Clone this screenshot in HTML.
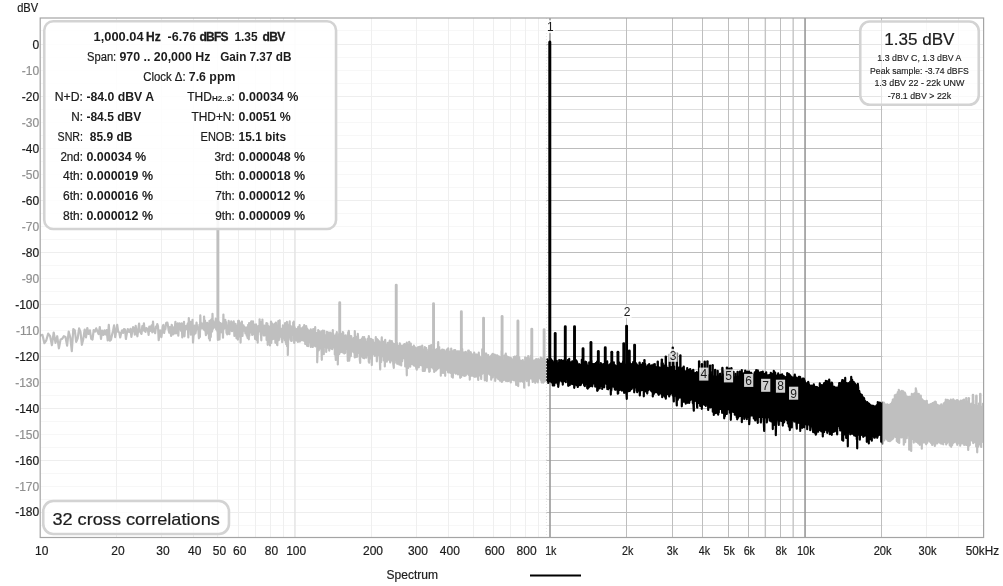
<!DOCTYPE html>
<html><head><meta charset="utf-8"><title>Spectrum</title>
<style>html,body{margin:0;padding:0;background:#fff;}body{width:1003px;height:586px;overflow:hidden;font-family:"Liberation Sans",sans-serif;}svg{display:block;will-change:transform;}text{font-family:"Liberation Sans",sans-serif;}</style></head><body>
<svg width="1003" height="586" viewBox="0 0 1003 586">
<rect x="0" y="0" width="1003" height="586" fill="#ffffff"/>
<g shape-rendering="crispEdges"><line x1="40.0" x2="983.2" y1="30.5" y2="30.5" stroke="#dfdfdf" stroke-width="1"/><line x1="40.0" x2="983.2" y1="44.5" y2="44.5" stroke="#bcbcbc" stroke-width="1"/><line x1="40.0" x2="983.2" y1="57.5" y2="57.5" stroke="#dfdfdf" stroke-width="1"/><line x1="40.0" x2="983.2" y1="70.5" y2="70.5" stroke="#dfdfdf" stroke-width="1"/><line x1="40.0" x2="983.2" y1="83.5" y2="83.5" stroke="#dfdfdf" stroke-width="1"/><line x1="40.0" x2="983.2" y1="96.5" y2="96.5" stroke="#bcbcbc" stroke-width="1"/><line x1="40.0" x2="983.2" y1="109.5" y2="109.5" stroke="#dfdfdf" stroke-width="1"/><line x1="40.0" x2="983.2" y1="122.5" y2="122.5" stroke="#dfdfdf" stroke-width="1"/><line x1="40.0" x2="983.2" y1="135.5" y2="135.5" stroke="#dfdfdf" stroke-width="1"/><line x1="40.0" x2="983.2" y1="148.5" y2="148.5" stroke="#bcbcbc" stroke-width="1"/><line x1="40.0" x2="983.2" y1="161.5" y2="161.5" stroke="#dfdfdf" stroke-width="1"/><line x1="40.0" x2="983.2" y1="174.5" y2="174.5" stroke="#dfdfdf" stroke-width="1"/><line x1="40.0" x2="983.2" y1="187.5" y2="187.5" stroke="#dfdfdf" stroke-width="1"/><line x1="40.0" x2="983.2" y1="200.5" y2="200.5" stroke="#bcbcbc" stroke-width="1"/><line x1="40.0" x2="983.2" y1="213.5" y2="213.5" stroke="#dfdfdf" stroke-width="1"/><line x1="40.0" x2="983.2" y1="226.5" y2="226.5" stroke="#dfdfdf" stroke-width="1"/><line x1="40.0" x2="983.2" y1="239.5" y2="239.5" stroke="#dfdfdf" stroke-width="1"/><line x1="40.0" x2="983.2" y1="252.5" y2="252.5" stroke="#bcbcbc" stroke-width="1"/><line x1="40.0" x2="983.2" y1="265.5" y2="265.5" stroke="#dfdfdf" stroke-width="1"/><line x1="40.0" x2="983.2" y1="278.5" y2="278.5" stroke="#dfdfdf" stroke-width="1"/><line x1="40.0" x2="983.2" y1="291.5" y2="291.5" stroke="#dfdfdf" stroke-width="1"/><line x1="40.0" x2="983.2" y1="304.5" y2="304.5" stroke="#bcbcbc" stroke-width="1"/><line x1="40.0" x2="983.2" y1="317.5" y2="317.5" stroke="#dfdfdf" stroke-width="1"/><line x1="40.0" x2="983.2" y1="330.5" y2="330.5" stroke="#dfdfdf" stroke-width="1"/><line x1="40.0" x2="983.2" y1="343.5" y2="343.5" stroke="#dfdfdf" stroke-width="1"/><line x1="40.0" x2="983.2" y1="356.5" y2="356.5" stroke="#bcbcbc" stroke-width="1"/><line x1="40.0" x2="983.2" y1="369.5" y2="369.5" stroke="#dfdfdf" stroke-width="1"/><line x1="40.0" x2="983.2" y1="382.5" y2="382.5" stroke="#dfdfdf" stroke-width="1"/><line x1="40.0" x2="983.2" y1="395.5" y2="395.5" stroke="#dfdfdf" stroke-width="1"/><line x1="40.0" x2="983.2" y1="408.5" y2="408.5" stroke="#bcbcbc" stroke-width="1"/><line x1="40.0" x2="983.2" y1="421.5" y2="421.5" stroke="#dfdfdf" stroke-width="1"/><line x1="40.0" x2="983.2" y1="434.5" y2="434.5" stroke="#dfdfdf" stroke-width="1"/><line x1="40.0" x2="983.2" y1="447.5" y2="447.5" stroke="#dfdfdf" stroke-width="1"/><line x1="40.0" x2="983.2" y1="460.5" y2="460.5" stroke="#bcbcbc" stroke-width="1"/><line x1="40.0" x2="983.2" y1="473.5" y2="473.5" stroke="#dfdfdf" stroke-width="1"/><line x1="40.0" x2="983.2" y1="486.5" y2="486.5" stroke="#dfdfdf" stroke-width="1"/><line x1="40.0" x2="983.2" y1="499.5" y2="499.5" stroke="#dfdfdf" stroke-width="1"/><line x1="40.0" x2="983.2" y1="512.5" y2="512.5" stroke="#bcbcbc" stroke-width="1"/><line x1="40.0" x2="983.2" y1="525.5" y2="525.5" stroke="#dfdfdf" stroke-width="1"/><line x1="116.5" x2="116.5" y1="18.0" y2="537.6" stroke="#bebebe" stroke-width="1"/><line x1="161.5" x2="161.5" y1="18.0" y2="537.6" stroke="#bebebe" stroke-width="1"/><line x1="193.5" x2="193.5" y1="18.0" y2="537.6" stroke="#bebebe" stroke-width="1"/><line x1="217.5" x2="217.5" y1="18.0" y2="537.6" stroke="#bebebe" stroke-width="1"/><line x1="238.5" x2="238.5" y1="18.0" y2="537.6" stroke="#bebebe" stroke-width="1"/><line x1="255.5" x2="255.5" y1="18.0" y2="537.6" stroke="#bebebe" stroke-width="1"/><line x1="270.5" x2="270.5" y1="18.0" y2="537.6" stroke="#bebebe" stroke-width="1"/><line x1="283.5" x2="283.5" y1="18.0" y2="537.6" stroke="#bebebe" stroke-width="1"/><line x1="371.5" x2="371.5" y1="18.0" y2="537.6" stroke="#bebebe" stroke-width="1"/><line x1="416.5" x2="416.5" y1="18.0" y2="537.6" stroke="#bebebe" stroke-width="1"/><line x1="448.5" x2="448.5" y1="18.0" y2="537.6" stroke="#bebebe" stroke-width="1"/><line x1="473.5" x2="473.5" y1="18.0" y2="537.6" stroke="#bebebe" stroke-width="1"/><line x1="493.5" x2="493.5" y1="18.0" y2="537.6" stroke="#bebebe" stroke-width="1"/><line x1="510.5" x2="510.5" y1="18.0" y2="537.6" stroke="#bebebe" stroke-width="1"/><line x1="525.5" x2="525.5" y1="18.0" y2="537.6" stroke="#bebebe" stroke-width="1"/><line x1="538.5" x2="538.5" y1="18.0" y2="537.6" stroke="#bebebe" stroke-width="1"/><line x1="626.5" x2="626.5" y1="18.0" y2="537.6" stroke="#bebebe" stroke-width="1"/><line x1="672.5" x2="672.5" y1="18.0" y2="537.6" stroke="#bebebe" stroke-width="1"/><line x1="702.5" x2="702.5" y1="18.0" y2="537.6" stroke="#bebebe" stroke-width="1"/><line x1="728.5" x2="728.5" y1="18.0" y2="537.6" stroke="#bebebe" stroke-width="1"/><line x1="748.5" x2="748.5" y1="18.0" y2="537.6" stroke="#bebebe" stroke-width="1"/><line x1="780.5" x2="780.5" y1="18.0" y2="537.6" stroke="#bebebe" stroke-width="1"/><line x1="881.5" x2="881.5" y1="18.0" y2="537.6" stroke="#bebebe" stroke-width="1"/><line x1="926.5" x2="926.5" y1="18.0" y2="537.6" stroke="#bebebe" stroke-width="1"/><line x1="958.5" x2="958.5" y1="18.0" y2="537.6" stroke="#bebebe" stroke-width="1"/></g><g><line x1="294.95" x2="294.95" y1="18.0" y2="537.6" stroke="#989898" stroke-width="1.6"/><line x1="550.00" x2="550.00" y1="18.0" y2="537.6" stroke="#989898" stroke-width="1.6"/><line x1="765.34" x2="765.34" y1="18.0" y2="537.6" stroke="#c4c4c4" stroke-width="1.4"/><line x1="793.18" x2="793.18" y1="18.0" y2="537.6" stroke="#c4c4c4" stroke-width="1.4"/><line x1="805.05" x2="805.05" y1="18.0" y2="537.6" stroke="#989898" stroke-width="1.6"/></g>
<clipPath id="pc"><rect x="40.0" y="18.0" width="943.8000000000001" height="519.6"/></clipPath><path clip-path="url(#pc)" d="M40.4,335.6 42.4,334.8 44.4,343.2 46.3,340.3 48.2,333.6 50.1,336.1 51.9,345.2 53.7,332.5 55.5,342.8 57.2,336.2 58.9,348.4 60.6,339.4 62.3,338.7 63.9,336.2 65.5,337.0 67.1,345.6 68.7,331.6 70.3,337.5 71.8,351.2 73.3,329.0 74.8,330.3 76.2,341.9 77.7,338.4 79.1,328.3 80.5,332.0 81.9,344.8 83.3,338.9 84.7,329.5 86.0,337.4 87.3,328.0 88.6,333.9 89.9,330.4 91.2,338.7 92.5,339.5 93.7,330.0 95.0,331.6 96.2,328.4 97.4,331.4 98.6,334.0 99.8,327.0 101.0,338.8 102.1,330.6 103.3,335.0 104.4,330.4 105.5,334.5 106.6,330.0 107.7,340.4 108.8,324.9 109.9,340.7 111.0,339.6 112.0,335.1 113.1,330.5 114.1,325.3 115.2,337.1 116.2,331.1 117.2,324.9 118.2,331.8 119.2,332.4 120.2,337.5 121.2,333.1 122.1,330.3 123.1,332.9 124.0,329.1 125.0,329.5 125.9,339.0 126.8,333.5 127.8,329.1 128.7,331.7 129.6,332.0 130.5,328.9 131.4,336.8 132.2,331.9 133.1,327.1 134.0,328.2 134.8,334.6 135.7,325.9 136.5,332.3 137.4,336.3 138.2,329.9 139.1,323.5 139.9,331.6 140.7,332.6 141.5,333.9 142.3,326.2 143.1,330.4 143.9,323.3 144.7,330.9 145.5,331.9 146.3,328.1 147.0,329.1 147.8,328.8 148.6,334.8 149.3,326.6 150.1,331.0 150.8,327.2 151.6,325.5 152.3,332.3 153.0,321.7 153.7,330.6 154.5,331.7 155.2,333.2 155.9,326.5 156.6,328.0 157.3,324.0 158.0,326.3 158.7,340.1 159.4,334.9 160.1,330.3 160.8,334.7 161.4,337.1 162.1,331.3 162.8,326.2 163.4,324.9 164.1,333.0 164.8,329.3 165.4,329.0 166.1,323.1 166.7,322.6 167.4,322.6 168.0,325.7 168.6,330.0 169.3,332.6 169.9,327.0 170.5,330.7 171.1,336.0 171.7,324.8 172.4,327.6 173.0,334.4 173.6,327.5 174.2,333.5 174.8,328.5 175.4,321.8 176.0,333.4 176.6,327.0 177.1,331.4 177.7,323.4 178.3,335.7 178.9,325.6 179.5,323.3 180.0,326.1 180.6,329.2 181.2,331.0 181.7,323.3 182.3,337.4 182.9,326.1 183.4,328.5 184.0,321.9 184.5,336.3 185.1,327.1 185.6,326.9 186.2,325.8 186.7,329.1 187.2,326.8 187.8,323.4 188.3,337.5 188.8,318.2 189.3,324.7 189.9,329.2 190.4,321.8 190.9,334.7 191.4,328.5 191.9,326.6 192.5,319.9 193.0,342.6 193.5,335.3 194.0,334.7 194.5,325.6 195.0,327.9 195.5,333.3 196.0,330.0 196.5,322.5 197.0,326.4 197.4,327.2 197.9,327.4 198.4,330.5 198.9,338.3 199.4,324.9 199.9,336.9 200.3,315.3 200.8,329.0 201.3,324.4 201.7,323.3 202.2,326.5 202.7,326.7 203.1,328.5 203.6,329.2 204.1,316.6 204.5,330.3 205.0,320.7 205.4,328.5 205.9,335.2 206.3,325.9 206.8,330.2 207.2,322.9 207.7,333.5 208.1,327.9 208.6,325.1 209.0,338.5 209.5,320.8 209.9,340.4 210.3,328.1 210.8,336.9 211.2,319.5 211.6,323.2 212.1,331.6 212.5,313.8 212.9,329.0 213.3,321.0 213.7,327.8 214.2,322.7 214.6,323.3 215.0,327.1 215.4,325.7 215.8,318.5 216.2,329.4 216.7,319.6 217.1,320.3 217.5,327.2 217.9,339.9 218.3,330.0 218.7,321.5 219.1,329.3 219.5,339.5 219.9,329.5 220.3,323.2 220.7,331.7 221.1,326.9 221.5,323.9 221.9,332.5 222.3,324.2 222.6,323.6 223.0,337.7 223.4,314.5 223.8,328.9 224.2,328.6 224.6,324.3 225.0,324.6 225.3,319.8 225.7,327.0 226.1,322.2 226.5,332.9 226.8,325.3 227.2,334.4 227.6,330.6 228.0,330.9 228.3,330.4 228.7,320.8 229.1,323.6 229.4,334.1 229.8,324.4 230.2,328.3 230.5,326.4 230.9,330.4 231.2,321.4 231.6,323.1 232.0,331.1 232.3,322.9 232.7,328.5 233.0,322.5 233.4,327.3 233.7,321.3 234.1,328.7 234.4,335.9 234.8,325.3 235.1,330.8 235.5,323.8 235.8,325.6 236.2,325.3 236.5,338.1 236.9,330.6 237.2,328.3 237.5,338.7 237.9,339.5 238.2,320.8 238.5,326.2 238.9,320.9 239.2,336.4 239.6,325.2 239.9,325.0 240.2,331.8 240.6,342.6 240.9,327.3 241.2,322.5 241.5,334.3 241.9,321.6 242.2,333.6 242.5,336.0 242.8,328.7 243.2,328.9 243.5,325.3 243.8,328.0 244.1,330.6 244.4,326.8 244.8,327.5 245.1,329.3 245.4,333.3 245.7,328.4 246.0,327.8 246.3,327.9 246.7,335.6 247.0,327.3 247.3,334.7 247.6,337.8 247.9,337.6 248.2,324.8 248.5,326.6 248.8,339.3 249.1,323.1 249.4,335.7 249.7,323.5 250.1,324.0 250.4,330.8 250.7,331.4 251.0,322.6 251.3,321.3 251.6,332.9 251.9,330.9 252.2,335.0 252.5,324.2 252.7,334.3 253.0,321.4 253.3,327.6 253.6,329.3 253.9,324.3 254.2,334.3 254.5,330.3 254.8,334.2 255.1,339.0 255.4,327.8 255.7,324.7 256.0,324.3 256.2,333.1 256.5,339.8 256.8,335.2 257.1,333.4 257.4,326.6 257.7,342.7 258.0,326.4 258.2,331.5 258.5,325.9 258.8,325.9 259.1,328.4 259.4,331.3 259.6,319.3 259.9,330.8 260.2,322.5 260.5,323.4 260.7,334.7 261.0,334.9 261.3,340.3 261.6,321.8 261.8,329.0 262.1,333.0 262.4,319.5 262.7,327.0 262.9,327.8 263.2,332.6 263.5,326.7 263.7,335.5 264.0,333.3 264.3,325.6 264.5,335.4 264.8,331.5 265.1,335.1 265.3,328.9 265.6,327.7 265.9,331.9 266.1,331.4 266.4,323.0 266.6,339.9 266.9,333.3 267.2,332.4 267.4,323.7 267.7,344.8 267.9,332.5 268.2,336.0 268.5,329.6 268.7,326.4 269.0,328.2 269.2,339.5 269.5,329.0 269.7,333.7 270.0,345.5 270.2,331.8 270.5,337.5 270.8,327.9 271.0,321.5 271.3,343.0 271.5,322.6 271.8,333.6 272.2,331.8 272.2,339.4 272.7,324.4 273.0,326.4 273.2,336.0 273.5,327.2 273.7,338.8 274.0,329.2 274.2,327.5 274.5,328.5 274.7,323.9 274.9,325.9 275.2,329.8 275.4,342.8 275.7,336.0 275.9,322.6 276.2,328.6 276.4,338.5 276.6,328.0 276.9,327.3 277.1,344.6 277.3,345.2 277.6,334.6 277.8,340.2 278.1,332.9 278.3,321.0 278.8,331.0 278.8,340.1 279.2,334.9 279.5,332.5 279.7,320.3 279.9,331.4 280.2,334.0 280.4,336.7 280.6,332.0 280.8,328.6 281.1,334.0 281.3,335.5 281.8,339.8 281.8,334.8 282.2,342.1 282.4,329.9 282.7,333.3 282.9,325.3 283.1,334.2 283.3,331.8 283.6,331.7 283.8,331.8 284.2,334.3 284.2,336.9 284.7,340.1 284.9,337.7 285.1,323.2 285.4,339.4 285.6,333.5 285.8,342.4 286.2,335.2 286.2,344.2 286.7,334.4 286.9,321.9 287.1,346.2 287.3,329.0 287.8,331.6 287.8,355.0 288.2,336.6 288.4,337.1 288.6,340.0 288.8,325.1 289.2,334.7 289.2,325.3 289.7,321.4 289.9,336.0 290.1,326.3 290.3,325.8 290.8,326.2 290.8,337.5 291.2,340.8 291.4,329.4 291.8,340.8 291.8,327.0 292.2,335.8 292.4,334.3 292.6,331.3 292.8,330.9 293.2,333.7 293.2,322.6 293.6,332.6 293.8,321.7 294.2,343.0 294.2,326.7 294.7,327.7 294.9,332.5 295.2,332.4 295.2,330.4 295.7,332.0 295.9,334.5 296.2,340.4 296.2,335.5 296.7,329.0 296.9,335.3 297.2,330.9 297.2,335.1 297.7,331.1 297.9,342.0 298.2,327.0 298.2,331.3 298.6,337.1 298.8,327.4 299.2,326.7 299.2,332.4 299.6,325.2 299.8,341.6 300.2,339.9 300.2,331.0 300.8,330.7 300.8,334.3 301.2,328.9 301.4,328.4 301.8,340.2 301.8,334.2 302.2,332.6 302.2,340.0 302.7,338.2 302.9,327.3 303.2,328.0 303.2,340.2 303.8,338.9 303.8,337.2 304.2,325.2 304.4,341.2 304.8,338.8 304.8,334.7 305.2,339.3 305.2,343.9 305.7,338.6 305.8,333.4 306.2,342.1 306.2,326.2 306.8,333.2 306.8,344.5 307.2,345.9 307.2,328.6 307.7,335.0 307.8,329.9 308.2,338.7 308.2,346.2 308.8,330.6 308.8,341.7 309.2,341.5 309.2,336.6 309.8,342.2 309.8,337.8 310.2,338.8 310.3,334.4 310.8,346.9 310.8,329.3 311.2,333.9 311.2,341.2 311.8,343.9 311.8,330.7 312.2,331.2 312.2,345.7 312.8,346.9 312.8,344.0 313.2,329.2 313.2,343.6 313.8,335.6 313.8,345.1 314.2,345.0 314.2,341.5 314.8,331.6 314.8,341.7 315.2,327.2 315.2,346.2 315.8,336.1 315.8,346.4 316.2,333.2 316.2,338.5 316.8,346.7 316.8,336.9 317.2,332.9 317.2,362.3 317.8,346.7 317.8,339.3 318.2,346.5 318.2,330.2 318.8,335.8 318.8,350.3 319.2,339.3 319.2,337.9 319.8,339.8 319.8,331.3 320.2,346.1 320.2,334.4 320.8,348.7 320.8,333.8 321.2,348.2 321.2,337.8 321.8,359.8 321.8,333.8 322.2,330.8 322.2,338.1 322.8,330.6 322.8,343.3 323.2,334.9 323.2,339.1 323.8,354.2 323.8,338.4 324.2,330.8 324.2,347.8 324.8,344.6 324.8,335.1 325.2,344.0 325.2,346.2 325.8,340.3 325.8,341.9 326.2,336.3 326.2,351.9 326.8,342.9 326.8,331.9 327.2,334.8 327.2,334.1 327.8,343.5 327.8,332.6 328.2,335.9 328.2,347.7 328.8,345.4 328.8,332.6 329.2,334.2 329.2,350.6 329.8,333.8 329.8,344.7 330.2,347.2 330.2,332.5 330.8,333.6 330.8,348.2 331.2,342.2 331.2,348.6 331.8,339.1 331.8,339.8 332.2,336.7 332.2,349.1 332.8,330.2 332.8,347.4 333.2,342.9 333.2,333.9 333.8,335.7 333.8,347.3 334.2,335.9 334.2,345.3 334.8,337.8 334.8,354.4 335.2,336.6 335.2,346.9 335.8,359.9 335.8,339.3 336.2,351.4 336.2,334.1 336.8,349.9 336.8,332.2 337.2,350.3 337.2,341.2 337.8,337.1 337.8,364.5 338.2,337.9 338.2,350.9 338.8,337.7 338.8,354.4 339.2,334.1 339.2,354.1 339.8,348.7 339.8,339.3 340.2,342.8 340.2,349.5 340.8,337.4 340.8,352.1 341.2,335.2 341.2,347.2 341.8,333.8 341.8,343.5 342.2,350.6 342.2,343.6 342.8,332.1 342.8,352.5 343.2,332.5 343.2,342.7 343.8,335.4 343.8,344.8 344.2,341.6 344.2,353.5 344.8,348.5 344.8,339.3 345.2,336.5 345.2,353.0 345.8,335.3 345.8,347.6 346.2,348.3 346.2,345.3 346.8,348.3 346.8,336.8 347.2,349.6 347.2,337.3 347.8,360.8 347.8,347.7 348.2,332.3 348.2,348.8 348.8,357.3 348.8,330.8 349.2,336.4 349.2,360.7 349.8,355.2 349.8,335.9 350.2,352.9 350.2,337.9 350.8,342.4 350.8,356.2 351.2,344.0 351.2,336.2 351.8,340.3 351.8,349.3 352.2,342.6 352.2,350.2 352.8,339.8 352.8,349.1 353.2,351.9 353.2,344.0 353.8,337.9 353.8,348.6 354.2,352.9 354.2,345.1 354.8,357.5 354.8,331.1 355.2,349.1 355.2,344.0 355.8,337.5 355.8,353.9 356.2,336.9 356.2,357.0 356.8,349.7 356.8,338.3 357.2,356.7 357.2,337.9 357.8,346.6 357.8,333.9 358.2,339.1 358.2,352.9 358.8,345.5 358.8,341.4 359.2,345.9 359.2,346.5 359.8,343.4 359.8,359.6 360.2,362.8 360.2,340.1 360.8,340.0 360.8,355.5 361.2,341.7 361.2,354.8 361.8,338.7 361.8,344.2 362.2,356.6 362.2,338.8 362.8,355.5 362.8,337.2 363.2,349.8 363.2,358.0 363.8,339.1 363.8,347.6 364.2,337.0 364.2,358.3 364.8,341.0 364.8,353.2 365.2,339.1 365.2,355.6 365.8,347.2 365.8,343.1 366.2,343.8 366.2,357.7 366.8,341.7 366.8,355.2 367.2,342.9 367.2,355.1 367.8,338.7 367.8,352.0 368.2,352.0 368.2,341.4 368.8,362.0 368.8,336.2 369.2,341.2 369.2,362.7 369.8,342.4 369.8,347.1 370.2,358.4 370.2,338.9 370.8,358.2 370.8,341.6 371.2,339.2 371.2,353.8 371.8,343.0 371.8,365.1 372.2,345.9 372.2,354.5 372.8,351.1 372.8,339.8 373.2,351.3 373.2,345.5 373.8,343.5 373.8,348.4 374.2,354.8 374.2,342.9 374.8,348.8 374.8,355.8 375.2,343.0 375.2,351.3 375.8,337.2 375.8,348.5 376.2,354.0 376.2,346.1 376.8,338.8 376.8,361.3 377.2,356.0 377.2,344.8 377.8,339.8 377.8,352.2 378.2,348.1 378.2,355.2 378.8,348.7 378.8,341.0 379.2,341.5 379.2,354.1 379.8,342.8 379.8,358.9 380.2,369.4 380.2,347.7 380.8,343.6 380.8,353.5 381.2,361.9 381.2,345.7 381.8,337.4 381.8,353.1 382.2,341.0 382.2,356.3 382.8,342.6 382.8,355.7 383.2,356.6 383.2,342.0 383.8,360.4 383.8,342.7 384.2,341.7 384.2,358.2 384.8,350.1 384.8,366.4 385.2,356.7 385.2,339.8 385.8,352.6 385.8,344.6 386.2,355.7 386.2,345.0 386.8,351.2 386.8,361.6 387.2,348.5 387.2,360.6 387.8,354.0 387.8,342.8 388.2,343.0 388.2,355.3 388.8,343.5 388.8,353.4 389.2,359.8 389.2,344.8 389.8,340.5 389.8,357.6 390.2,362.4 390.2,345.8 390.8,349.2 390.8,358.1 391.2,359.4 391.2,345.2 391.8,341.0 391.8,349.7 392.2,360.7 392.2,346.9 392.8,355.8 392.8,345.3 393.2,343.6 393.2,363.4 393.8,367.8 393.8,346.7 394.2,361.9 394.2,348.7 394.8,362.8 394.8,344.0 395.2,352.8 395.2,344.1 395.8,357.5 395.8,348.7 396.2,348.3 396.2,360.0 396.8,343.0 396.8,355.8 397.2,363.8 397.2,350.2 397.8,348.1 397.8,356.8 398.2,355.2 398.2,347.5 398.8,355.6 398.8,345.5 399.2,346.9 399.2,364.6 399.8,360.6 399.8,343.4 400.2,348.1 400.2,363.3 400.8,361.2 400.8,347.4 401.2,365.5 401.2,348.2 401.8,345.7 401.8,356.8 402.2,348.4 402.2,361.3 402.8,348.4 402.8,355.0 403.2,357.8 403.2,345.5 403.8,354.1 403.8,344.6 404.2,358.3 404.2,348.7 404.8,351.7 404.8,344.2 405.2,346.2 405.2,366.5 405.8,351.8 405.8,361.5 406.2,360.9 406.2,348.6 406.8,375.3 406.8,342.6 407.2,346.1 407.2,360.7 407.8,349.7 407.8,355.0 408.2,367.9 408.2,347.5 408.8,356.3 408.8,348.8 409.2,360.2 409.2,341.8 409.8,348.1 409.8,362.4 410.2,353.6 410.2,366.6 410.8,343.5 410.8,361.2 411.2,359.7 411.2,347.7 411.8,346.9 411.8,361.0 412.2,349.6 412.2,364.2 412.8,360.3 412.8,351.4 413.2,349.5 413.2,358.8 413.8,345.6 413.8,365.5 414.2,351.4 414.2,360.4 414.8,361.3 414.8,347.2 415.2,348.3 415.2,366.1 415.8,349.3 415.8,360.2 416.2,351.9 416.2,367.8 416.8,369.6 416.8,349.8 417.2,365.8 417.2,347.9 417.8,348.2 417.8,363.4 418.2,347.1 418.2,363.5 418.8,367.3 418.8,348.1 419.2,361.9 419.2,350.8 419.8,364.9 419.8,346.8 420.2,362.3 420.2,346.5 420.8,351.8 420.8,361.5 421.2,349.2 421.2,365.3 421.8,347.0 421.8,363.1 422.2,360.5 422.2,345.5 422.8,354.9 422.8,371.0 423.2,354.7 423.2,365.7 423.8,351.0 423.8,370.8 424.2,349.8 424.2,360.6 424.8,347.0 424.8,370.9 425.2,363.9 425.2,352.4 425.8,360.2 425.8,350.0 426.2,348.1 426.2,367.3 426.8,349.8 426.8,367.3 427.2,366.1 427.2,355.2 427.8,352.6 427.8,364.8 428.2,351.8 428.2,360.2 428.8,352.0 428.8,369.0 429.2,345.8 429.2,371.8 429.8,371.2 429.8,349.3 430.2,349.1 430.2,361.9 430.8,350.0 430.8,361.1 431.2,345.1 431.2,364.9 431.8,367.3 431.8,354.3 432.2,350.0 432.2,366.5 432.8,363.8 432.8,350.0 433.2,368.6 433.2,353.5 433.8,351.5 433.8,365.1 434.2,349.1 434.2,372.0 434.8,352.0 434.8,371.0 435.2,365.5 435.2,355.3 435.8,370.7 435.8,350.9 436.2,349.6 436.2,370.1 436.8,351.2 436.8,367.9 437.2,369.2 437.2,348.8 437.8,367.8 437.8,354.9 438.2,342.1 438.2,368.2 438.8,366.1 438.8,351.6 439.2,347.2 439.2,367.7 439.8,350.1 439.8,363.2 440.2,352.8 440.2,366.8 440.8,350.9 440.8,375.7 441.2,353.3 441.2,373.7 441.8,369.8 441.8,353.8 442.2,349.6 442.2,369.7 442.8,352.1 442.8,367.3 443.2,350.9 443.2,372.9 443.8,349.8 443.8,366.4 444.2,369.6 444.2,354.9 444.8,369.9 444.8,351.8 445.2,375.8 445.2,351.4 445.8,369.4 445.8,355.5 446.2,353.0 446.2,369.6 446.8,369.1 446.8,349.6 447.2,370.1 447.2,351.7 447.8,352.1 447.8,370.0 448.2,372.4 448.2,348.4 448.8,353.3 448.8,363.2 449.2,351.6 449.2,369.2 449.8,352.3 449.8,365.3 450.2,372.8 450.2,357.5 450.8,353.2 450.8,371.2 451.2,366.7 451.2,348.6 451.8,354.2 451.8,376.8 452.2,366.4 452.2,351.2 452.8,356.7 452.8,377.6 453.2,366.9 453.2,353.7 453.8,352.0 453.8,372.7 454.2,370.6 454.2,350.0 454.8,355.0 454.8,364.1 455.2,350.2 455.2,368.4 455.8,373.6 455.8,353.6 456.2,353.5 456.2,369.5 456.8,366.0 456.8,355.4 457.2,351.3 457.2,370.4 457.8,355.4 457.8,374.3 458.2,374.3 458.2,351.3 458.8,355.6 458.8,367.8 459.2,351.3 459.2,370.1 459.8,369.5 459.8,353.7 460.2,377.8 460.2,356.2 460.8,371.5 460.8,356.6 461.2,377.0 461.2,353.6 461.8,375.0 461.8,357.7 462.2,349.1 462.2,375.2 462.8,352.6 462.8,372.3 463.2,375.0 463.2,357.7 463.8,373.2 463.8,354.4 464.2,376.0 464.2,352.4 464.8,356.3 464.8,373.4 465.2,354.7 465.2,375.7 465.8,375.3 465.8,351.9 466.2,355.4 466.2,368.7 466.8,357.9 466.8,373.4 467.2,353.6 467.2,366.5 467.8,356.9 467.8,373.8 468.2,371.3 468.2,350.5 468.8,350.6 468.8,375.0 469.2,372.0 469.2,354.4 469.8,379.6 469.8,354.0 470.2,373.7 470.2,354.9 470.8,352.2 470.8,375.6 471.2,371.0 471.2,355.4 471.8,355.6 471.8,375.7 472.2,354.4 472.2,375.7 472.8,374.3 472.8,357.7 473.2,374.5 473.2,358.4 473.8,376.3 473.8,354.9 474.2,372.1 474.2,352.7 474.8,360.4 474.8,376.8 475.2,371.7 475.2,354.3 475.8,357.1 475.8,369.8 476.2,376.5 476.2,355.2 476.8,354.5 476.8,369.0 477.2,357.1 477.2,375.6 477.8,354.9 477.8,373.9 478.2,379.9 478.2,358.2 478.8,374.4 478.8,352.7 479.2,375.6 479.2,357.8 479.8,356.5 479.8,372.2 480.2,374.2 480.2,358.4 480.8,359.6 480.8,366.7 481.2,378.9 481.2,357.5 481.8,374.2 481.8,360.7 482.2,369.8 482.2,349.4 482.8,357.8 482.8,368.5 483.2,373.2 483.2,350.8 483.8,355.6 483.8,367.8 484.2,371.0 484.2,356.5 484.8,380.3 484.8,355.7 485.2,356.3 485.2,372.0 485.8,353.6 485.8,379.1 486.2,353.5 486.2,373.8 486.8,355.8 486.8,380.9 487.2,356.8 487.2,370.8 487.8,371.1 487.8,360.9 488.2,355.1 488.2,372.3 488.8,373.2 488.8,357.5 489.2,374.2 489.2,357.8 489.8,357.0 489.8,370.4 490.2,374.8 490.2,358.8 490.8,374.2 490.8,357.6 491.2,355.7 491.2,379.7 491.8,355.2 491.8,366.3 492.2,374.8 492.2,354.3 492.8,353.8 492.8,377.4 493.2,357.6 493.2,371.4 493.8,355.9 493.8,375.5 494.2,357.6 494.2,372.4 494.8,373.6 494.8,354.7 495.2,355.6 495.2,380.9 495.8,372.3 495.8,355.7 496.2,355.4 496.2,375.7 496.8,359.7 496.8,377.5 497.2,355.3 497.2,377.3 497.8,374.9 497.8,357.4 498.2,378.9 498.2,356.2 498.8,373.9 498.8,356.8 499.2,356.7 499.2,379.2 499.8,357.5 499.8,380.6 500.2,377.4 500.2,360.3 500.8,358.8 500.8,375.1 501.2,356.8 501.2,379.7 501.8,381.9 501.8,351.1 502.2,379.2 502.2,361.4 502.8,380.6 502.8,362.4 503.2,362.3 503.2,379.8 503.8,360.3 503.8,380.0 504.2,375.6 504.2,355.5 504.8,376.2 504.8,357.8 505.2,375.6 505.2,360.0 505.8,353.7 505.8,380.8 506.2,359.2 506.2,376.9 506.8,377.5 506.8,359.6 507.2,381.2 507.2,356.7 507.8,378.5 507.8,357.4 508.2,374.9 508.2,358.9 508.8,357.2 508.8,380.9 509.2,379.7 509.2,358.7 509.8,360.0 509.8,377.8 510.2,357.7 510.2,378.4 510.8,357.9 510.8,382.4 511.2,359.3 511.2,379.8 511.8,377.9 511.8,359.7 512.2,376.5 512.2,359.5 512.8,359.7 512.8,376.0 513.2,361.6 513.2,380.1 513.8,357.2 513.8,379.9 514.2,374.1 514.2,360.0 514.8,380.4 514.8,356.6 515.2,373.7 515.2,358.6 515.8,359.1 515.8,373.6 516.2,384.9 516.2,358.0 516.8,379.2 516.8,356.0 517.2,375.5 517.2,360.0 517.8,381.0 517.8,359.2 518.2,386.1 518.2,360.1 518.8,374.8 518.8,361.9 519.2,357.3 519.2,377.7 519.8,361.6 519.8,378.6 520.2,381.4 520.2,361.7 520.8,375.0 520.8,360.6 521.2,360.9 521.2,376.0 521.8,361.3 521.8,376.8 522.2,361.6 522.2,381.3 522.8,360.2 522.8,375.4 523.2,382.0 523.2,361.6 523.8,375.2 523.8,362.1 524.2,387.7 524.2,362.1 524.8,379.9 524.8,362.0 525.2,379.4 525.2,357.3 525.8,362.9 525.8,375.9 526.2,376.5 526.2,358.0 526.8,361.5 526.8,380.9 527.2,375.0 527.2,362.0 527.8,373.8 527.8,358.6 528.2,379.8 528.2,356.2 528.8,361.1 528.8,385.5 529.2,359.3 529.2,377.8 529.8,361.1 529.8,378.0 530.2,360.8 530.2,376.8 530.8,355.9 530.8,378.4 531.2,359.7 531.2,376.6 531.8,361.1 531.8,377.9 532.2,361.7 532.2,377.3 532.8,382.0 532.8,363.0 533.2,361.6 533.2,374.9 533.8,360.6 533.8,377.4 534.2,361.5 534.2,380.7 534.8,361.5 534.8,380.2 535.2,360.1 535.2,382.8 535.8,361.4 535.8,377.7 536.2,376.3 536.2,359.0 536.8,362.8 536.8,378.1 537.2,381.3 537.2,361.6 537.8,361.3 537.8,382.3 538.2,377.6 538.2,359.1 538.8,361.6 538.8,377.3 539.2,377.9 539.2,363.5 539.8,359.9 539.8,374.7 540.2,363.5 540.2,376.2 540.8,379.7 540.8,357.6 541.2,361.8 541.2,378.6 541.8,382.5 541.8,361.9 542.2,378.7 542.2,358.7 542.8,358.7 542.8,378.6 543.2,359.8 543.2,382.6 543.8,364.1 543.8,375.6 544.2,381.6 544.2,362.4 544.8,378.5 544.8,361.0 545.2,380.3 545.2,362.5 545.8,363.0 545.8,379.7 546.2,360.1 546.2,381.1 546.8,361.6 546.8,379.6 547.2,359.4 547.2,378.5 547.8,380.5 547.8,362.5 548.2,362.4 548.2,382.9 548.8,361.3 548.8,374.1 549.2,380.6 549.2,360.5 549.8,380.2 549.8,362.5 550.2,364.0 550.2,381.5 550.8,359.1 550.8,379.7 551.2,377.4 551.2,361.1 551.8,362.2 551.8,382.4 552.2,380.5 552.2,360.6 552.8,385.5 552.8,361.3 553.2,378.2 553.2,362.3 553.8,363.5 553.8,380.5 554.2,385.4 554.2,363.7 554.8,362.8 554.8,379.5 555.2,363.6 555.2,377.4 555.8,382.7 555.8,364.0 556.2,377.6 556.2,363.1 556.8,380.9 556.8,360.8 557.2,377.8 557.2,366.0 557.8,363.5 557.8,384.3 558.2,366.2 558.2,386.8 558.8,382.2 558.8,363.8 559.2,379.1 559.2,360.0 559.8,367.8 559.8,380.3 560.2,378.4 560.2,361.6 560.8,361.6 560.8,375.2 561.2,381.0 561.2,360.2 561.8,381.5 561.8,362.6 562.2,381.5 562.2,361.9 562.8,384.6 562.8,361.4 563.2,378.5 563.2,360.5 563.8,365.8 563.8,381.1 564.2,378.8 564.2,365.1 564.8,363.1 564.8,377.9 565.2,362.6 565.2,377.7 565.8,382.2 565.8,363.1 566.2,379.3 566.2,362.6 566.8,361.6 566.8,378.7 567.2,378.2 567.2,363.7 567.8,377.1 567.8,360.1 568.2,385.8 568.2,362.8 568.8,384.7 568.8,365.5 569.2,358.9 569.2,381.6 569.8,385.1 569.8,365.1 570.2,382.2 570.2,362.1 570.8,382.1 570.8,363.8 571.2,383.3 571.2,362.7 571.8,380.3 571.8,363.7 572.2,361.4 572.2,384.2 572.8,383.4 572.8,363.2 573.2,361.5 573.2,381.3 573.8,365.9 573.8,380.6 574.2,362.3 574.2,387.8 574.8,384.1 574.8,363.1 575.2,365.2 575.2,379.7 575.8,380.3 575.8,360.0 576.2,382.0 576.2,363.7 576.8,361.3 576.8,385.2 577.2,362.7 577.2,383.7 577.8,387.0 577.8,366.5 578.2,365.2 578.2,381.7 578.8,385.3 578.8,364.7 579.2,364.1 579.2,380.1 579.8,384.9 579.8,364.6 580.2,366.4 580.2,385.1 580.8,365.6 580.8,384.9 581.2,381.7 581.2,364.6 581.8,380.0 581.8,359.9 582.2,364.9 582.2,382.7 582.8,379.9 582.8,364.3 583.2,381.2 583.2,363.6 583.8,367.3 583.8,382.6 584.2,385.4 584.2,364.0 584.8,363.0 584.8,386.1 585.2,381.7 585.2,361.5 585.8,366.7 585.8,380.2 586.2,382.8 586.2,362.2 586.8,364.6 586.8,384.0 587.2,367.4 587.2,388.1 587.8,388.5 587.8,368.6 588.2,366.5 588.2,385.4 588.8,365.8 588.8,387.2 589.2,385.1 589.2,362.4 589.8,367.2 589.8,382.7 590.2,363.1 590.2,386.1 590.8,381.8 590.8,364.7 591.2,385.7 591.2,360.7 591.8,382.6 591.8,365.3 592.2,365.3 592.2,386.3 592.8,381.6 592.8,364.0 593.2,364.0 593.2,380.9 593.8,381.8 593.8,366.5 594.2,383.4 594.2,365.4 594.8,380.5 594.8,363.8 595.2,364.9 595.2,386.6 595.8,363.1 595.8,385.6 596.2,365.5 596.2,382.8 596.8,382.6 596.8,364.5 597.2,361.5 597.2,390.8 597.8,390.0 597.8,363.7 598.2,378.8 598.2,361.6 598.8,378.8 598.8,365.1 599.2,364.9 599.2,381.9 599.8,388.3 599.8,365.3 600.2,365.5 600.2,380.2 600.8,379.2 600.8,363.1 601.2,384.0 601.2,364.9 601.8,364.2 601.8,386.2 602.2,365.2 602.2,388.9 602.8,365.0 602.8,381.3 603.2,385.0 603.2,364.9 603.8,381.1 603.8,364.0 604.2,364.8 604.2,387.3 604.8,366.1 604.8,383.5 605.2,381.3 605.2,361.2 605.8,382.1 605.8,366.1 606.2,383.6 606.2,365.7 606.8,364.2 606.8,384.2 607.2,361.4 607.2,388.9 607.8,366.8 607.8,383.9 608.2,366.9 608.2,389.3 608.8,367.4 608.8,383.0 609.2,387.2 609.2,365.4 609.8,364.3 609.8,386.4 610.2,388.0 610.2,367.5 610.8,367.6 610.8,394.6 611.2,363.0 611.2,391.0 611.8,385.3 611.8,365.8 612.2,382.8 612.2,364.7 612.8,365.8 612.8,386.4 613.2,385.7 613.2,366.3 613.8,362.3 613.8,386.8 614.2,384.4 614.2,369.2 614.8,365.2 614.8,389.2 615.2,368.5 615.2,389.8 615.8,366.3 615.8,387.4 616.2,386.1 616.2,366.1 616.8,387.0 616.8,366.8 617.2,390.1 617.2,367.4 617.8,393.7 617.8,366.1 618.2,366.4 618.2,393.5 618.8,366.3 618.8,383.7 619.2,362.7 619.2,383.7 619.8,367.3 619.8,390.0 620.2,385.0 620.2,364.2 620.8,363.8 620.8,387.0 621.2,367.5 621.2,387.6 621.8,364.6 621.8,390.6 622.2,385.6 622.2,364.4 622.8,362.5 622.8,388.3 623.2,390.2 623.2,361.7 623.8,365.2 623.8,388.6 624.2,392.8 624.2,365.5 624.8,392.4 624.8,365.6 625.2,389.1 625.2,365.5 625.8,390.4 625.8,367.2 626.2,364.4 626.2,390.6 626.8,398.8 626.8,363.1 627.2,364.9 627.2,385.2 627.8,384.7 627.8,366.5 628.2,366.4 628.2,391.2 628.8,366.0 628.8,391.2 629.2,388.5 629.2,364.1 629.8,391.0 629.8,363.1 630.2,390.2 630.2,366.5 630.8,386.9 630.8,366.6 631.2,388.9 631.2,366.6 631.8,364.2 631.8,388.8 632.2,367.2 632.2,385.9 632.8,365.2 632.8,385.4 633.2,362.1 633.2,383.4 633.8,387.5 633.8,364.9 634.2,364.4 634.2,392.3 634.8,366.5 634.8,387.1 635.2,365.5 635.2,386.1 635.8,387.3 635.8,363.1 636.2,387.0 636.2,366.4 636.8,390.8 636.8,364.3 637.2,392.2 637.2,365.5 637.8,385.8 637.8,365.8 638.2,390.4 638.2,366.4 638.8,367.7 638.8,386.7 639.2,390.9 639.2,366.2 639.8,364.6 639.8,395.5 640.2,387.3 640.2,366.6 640.8,367.2 640.8,388.5 641.2,385.1 641.2,365.6 641.8,364.6 641.8,390.2 642.2,365.3 642.2,387.4 642.8,384.3 642.8,363.2 643.2,385.0 643.2,363.6 643.8,366.8 643.8,396.3 644.2,369.7 644.2,385.9 644.8,389.3 644.8,364.3 645.2,364.2 645.2,386.6 645.8,367.0 645.8,391.5 646.2,369.4 646.2,387.6 646.8,366.7 646.8,385.1 647.2,367.8 647.2,393.5 647.8,388.4 647.8,365.3 648.2,368.5 648.2,390.1 648.8,386.8 648.8,366.3 649.2,389.2 649.2,364.1 649.8,387.3 649.8,370.6 650.2,388.5 650.2,369.2 650.8,365.9 650.8,390.6 651.2,367.4 651.2,390.3 651.8,387.0 651.8,365.3 652.2,391.9 652.2,369.2 652.8,365.9 652.8,396.4 653.2,369.7 653.2,389.9 653.8,366.1 653.8,393.8 654.2,390.1 654.2,367.0 654.8,392.3 654.8,364.0 655.2,388.3 655.2,367.1 655.8,388.4 655.8,368.0 656.2,367.2 656.2,392.2 656.8,369.2 656.8,390.7 657.2,367.4 657.2,391.1 657.8,369.4 657.8,391.5 658.2,393.9 658.2,367.0 658.8,367.6 658.8,394.8 659.2,369.1 659.2,391.3 659.8,393.4 659.8,367.6 660.2,369.5 660.2,393.0 660.8,391.5 660.8,368.6 661.2,368.1 661.2,393.3 661.8,394.3 661.8,363.1 662.2,397.2 662.2,369.4 662.8,363.7 662.8,395.7 663.2,367.7 663.2,391.2 663.8,391.3 663.8,368.0 664.2,368.9 664.2,390.9 664.8,396.7 664.8,365.7 665.2,388.4 665.2,365.6 665.8,368.3 665.8,398.7 666.2,390.3 666.2,365.8 666.8,388.7 666.8,369.2 667.2,367.8 667.2,392.7 667.8,394.0 667.8,369.7 668.2,394.5 668.2,368.0 668.8,368.7 668.8,389.4 669.2,369.2 669.2,396.4 669.8,368.2 669.8,394.8 670.2,393.8 670.2,367.2 670.8,367.9 670.8,393.4 671.2,367.2 671.2,393.4 671.8,370.7 671.8,390.8 672.2,392.6 672.2,369.2 672.8,367.6 672.8,395.6 673.2,370.3 673.2,393.2 673.8,401.5 673.8,367.2 674.2,366.6 674.2,394.4 674.8,395.6 674.8,371.9 675.2,394.9 675.2,371.0 675.8,371.4 675.8,393.7 676.2,370.8 676.2,394.8 676.8,405.4 676.8,372.0 677.2,393.0 677.2,368.3 677.8,399.8 677.8,368.1 678.2,396.1 678.2,371.0 678.8,371.6 678.8,394.5 679.2,367.3 679.2,397.6 679.8,371.8 679.8,394.5 680.2,396.9 680.2,370.1 680.8,397.6 680.8,369.4 681.2,372.3 681.2,396.4 681.8,370.3 681.8,406.3 682.2,398.0 682.2,368.1 682.8,398.0 682.8,370.4 683.2,372.7 683.2,395.0 683.8,401.7 683.8,371.2 684.2,396.0 684.2,370.6 684.8,373.6 684.8,398.2 685.2,372.6 685.2,399.1 685.8,403.6 685.8,373.3 686.2,397.6 686.2,371.1 686.8,372.3 686.8,398.4 687.2,401.8 687.2,368.1 687.8,402.8 687.8,369.7 688.2,370.0 688.2,396.1 688.8,397.9 688.8,372.6 689.2,371.7 689.2,402.8 689.8,398.8 689.8,372.0 690.2,400.1 690.2,372.6 690.8,398.2 690.8,371.5 691.2,399.4 691.2,373.2 691.8,394.6 691.8,371.1 692.2,371.4 692.2,399.3 692.8,373.3 692.8,403.1 693.2,371.9 693.2,400.8 693.8,410.7 693.8,374.5 694.2,375.9 694.2,398.3 694.8,374.6 694.8,396.6 695.2,373.1 695.2,400.8 695.8,376.5 695.8,398.3 696.2,376.7 696.2,395.5 696.8,372.2 696.8,400.3 697.2,407.7 697.2,377.7 697.8,376.0 697.8,399.4 698.2,397.6 698.2,375.7 698.8,399.6 698.8,372.4 699.2,376.6 699.2,403.2 699.8,400.2 699.8,376.6 700.2,405.9 700.2,373.2 700.8,375.1 700.8,401.7 701.2,403.6 701.2,376.3 701.8,376.8 701.8,408.8 702.2,402.4 702.2,378.0 702.8,404.6 702.8,376.0 703.2,375.7 703.2,398.2 703.8,403.7 703.8,379.0 704.2,374.1 704.2,403.1 704.8,404.9 704.8,374.2 705.2,404.2 705.2,376.6 705.8,405.9 705.8,379.8 706.2,405.0 706.2,372.2 706.8,402.3 706.8,377.6 707.2,402.0 707.2,376.9 707.8,404.3 707.8,378.7 708.2,409.9 708.2,375.4 708.8,378.6 708.8,404.6 709.2,376.7 709.2,407.3 709.8,405.0 709.8,376.5 710.2,377.0 710.2,407.3 710.8,372.2 710.8,405.9 711.2,406.9 711.2,375.2 711.8,405.5 711.8,378.4 712.2,377.2 712.2,403.5 712.8,377.5 712.8,411.7 713.2,402.2 713.2,377.1 713.8,376.5 713.8,414.9 714.2,405.0 714.2,376.7 714.8,375.6 714.8,407.4 715.2,406.3 715.2,376.4 715.8,413.2 715.8,376.9 716.2,376.6 716.2,407.4 716.8,406.5 716.8,377.9 717.2,404.7 717.2,380.4 717.8,378.8 717.8,412.6 718.2,414.6 718.2,377.0 718.8,380.6 718.8,412.5 719.2,375.2 719.2,408.8 719.8,378.4 719.8,404.9 720.2,373.9 720.2,408.9 720.8,405.3 720.8,381.0 721.2,377.3 721.2,407.4 721.8,379.1 721.8,407.8 722.2,412.8 722.2,376.5 722.8,376.3 722.8,411.3 723.2,406.9 723.2,376.9 723.8,412.3 723.8,374.5 724.2,418.3 724.2,375.5 724.8,377.8 724.8,416.5 725.2,412.5 725.2,374.7 725.8,406.1 725.8,379.1 726.2,376.8 726.2,407.4 726.8,377.8 726.8,413.9 727.2,380.1 727.2,407.8 727.8,379.9 727.8,405.0 728.2,378.7 728.2,408.1 728.8,378.5 728.8,409.4 729.2,405.9 729.2,379.6 729.8,378.6 729.8,412.7 730.2,406.8 730.2,378.7 730.8,379.7 730.8,419.8 731.2,407.9 731.2,379.4 731.8,379.7 731.8,409.1 732.2,380.7 732.2,405.7 732.8,411.2 732.8,381.5 733.2,412.0 733.2,380.7 733.8,410.5 733.8,377.3 734.2,382.6 734.2,411.8 734.8,381.0 734.8,414.7 735.2,382.2 735.2,411.2 735.8,413.2 735.8,376.6 736.2,379.4 736.2,412.0 736.8,417.4 736.8,381.7 737.2,419.3 737.2,382.5 737.8,376.9 737.8,411.5 738.2,383.8 738.2,417.6 738.8,412.8 738.8,382.0 739.2,409.3 739.2,377.5 739.8,371.7 739.8,408.2 740.2,415.9 740.2,379.8 740.8,411.3 740.8,381.3 741.2,376.1 741.2,413.5 741.8,370.1 741.8,422.1 742.2,410.1 742.2,383.4 742.8,411.7 742.8,381.3 743.2,379.4 743.2,412.4 743.8,373.4 743.8,415.3 744.2,379.1 744.2,419.0 744.8,413.4 744.8,380.4 745.2,412.7 745.2,370.6 745.8,377.7 745.8,413.3 746.2,382.2 746.2,414.7 746.8,419.2 746.8,380.6 747.2,412.2 747.2,371.5 747.8,411.0 747.8,382.9 748.2,376.1 748.2,416.7 748.8,410.5 748.8,375.4 749.2,371.7 749.2,424.2 749.8,415.1 749.8,381.6 750.2,379.6 750.2,415.4 750.8,408.8 750.8,375.1 751.2,372.9 751.2,414.5 751.8,380.0 751.8,415.4 752.2,382.4 752.2,414.2 752.8,374.7 752.8,413.0 753.2,415.8 753.2,378.0 753.8,418.4 753.8,378.0 754.2,416.6 754.2,380.5 754.8,372.3 754.8,416.7 755.2,420.5 755.2,378.8 755.8,411.6 755.8,377.3 756.2,414.4 756.2,370.0 756.8,415.0 756.8,379.5 757.2,378.4 757.2,417.2 757.8,422.8 757.8,370.3 758.2,376.8 758.2,411.3 758.8,380.5 758.8,417.2 759.2,410.9 759.2,381.9 759.8,372.6 759.8,416.3 760.2,413.5 760.2,376.8 760.8,374.0 760.8,422.5 761.2,419.2 761.2,372.0 761.8,382.2 761.8,417.2 762.2,380.9 762.2,412.9 762.8,414.4 762.8,371.6 763.2,410.2 763.2,381.1 763.8,380.0 763.8,421.9 764.2,430.9 764.2,379.3 764.8,373.8 764.8,417.1 765.2,417.4 765.2,380.6 765.8,378.3 765.8,416.9 766.2,372.3 766.2,410.1 766.8,379.0 766.8,422.5 767.2,418.6 767.2,377.7 767.8,375.3 767.8,411.2 768.2,376.8 768.2,415.8 768.8,417.1 768.8,381.8 769.2,414.4 769.2,375.2 769.8,420.6 769.8,382.0 770.2,415.6 770.2,382.7 770.8,372.9 770.8,416.0 771.2,378.1 771.2,421.5 771.8,419.0 771.8,380.4 772.2,417.1 772.2,373.8 772.8,429.1 772.8,383.1 773.2,379.2 773.2,415.2 773.8,413.6 773.8,370.8 774.2,374.7 774.2,415.1 774.8,379.6 774.8,425.0 775.2,372.7 775.2,416.7 775.8,379.9 775.8,435.1 776.2,417.7 776.2,380.5 776.8,375.5 776.8,419.3 777.2,417.4 777.2,377.5 777.8,412.5 777.8,380.6 778.2,373.4 778.2,418.3 778.8,424.9 778.8,379.0 779.2,417.9 779.2,375.8 779.8,415.9 779.8,375.3 780.2,379.9 780.2,420.7 780.8,419.5 780.8,374.8 781.2,416.6 781.2,378.2 781.8,421.1 781.8,378.8 782.2,417.3 782.2,374.3 782.8,384.0 782.8,425.6 783.2,381.1 783.2,423.2 783.8,376.1 783.8,419.2 784.2,422.1 784.2,380.6 784.8,419.6 784.8,377.5 785.2,379.6 785.2,418.8 785.8,377.0 785.8,419.5 786.2,377.1 786.2,418.8 786.8,420.0 786.8,379.8 787.2,418.3 787.2,373.0 787.8,375.6 787.8,423.5 788.2,416.0 788.2,380.1 788.8,426.6 788.8,373.9 789.2,381.9 789.2,421.2 789.8,378.0 789.8,430.1 790.2,375.4 790.2,421.9 790.8,380.2 790.8,426.8 791.2,425.4 791.2,376.5 791.8,380.0 791.8,427.5 792.2,378.8 792.2,420.6 792.8,377.6 792.8,419.7 793.2,381.6 793.2,419.6 793.8,414.5 793.8,377.9 794.2,421.6 794.2,378.3 794.8,374.5 794.8,416.0 795.2,376.3 795.2,419.5 795.8,381.4 795.8,421.4 796.2,377.6 796.2,420.3 796.8,428.7 796.8,382.2 797.2,416.3 797.2,378.4 797.8,380.8 797.8,422.6 798.2,418.6 798.2,381.2 798.8,376.8 798.8,418.9 799.2,383.5 799.2,423.0 799.8,376.9 799.8,423.2 800.2,377.2 800.2,430.9 800.8,414.4 800.8,379.7 801.2,381.2 801.2,417.3 801.8,383.8 801.8,422.0 802.2,379.0 802.2,427.8 802.8,378.5 802.8,421.0 803.2,381.0 803.2,420.7 803.8,420.3 803.8,378.5 804.2,380.0 804.2,427.3 804.8,381.2 804.8,421.8 805.2,383.6 805.2,419.3 805.8,420.8 805.8,383.1 806.2,424.4 806.2,384.9 806.8,422.2 806.8,386.1 807.2,383.0 807.2,429.2 807.8,384.1 807.8,424.6 808.2,420.7 808.2,381.8 808.8,384.3 808.8,421.0 809.2,419.5 809.2,384.8 809.8,386.1 809.8,425.8 810.2,385.5 810.2,430.2 810.8,422.4 810.8,385.9 811.2,388.5 811.2,426.4 811.8,424.0 811.8,385.6 812.2,390.9 812.2,425.4 812.8,389.0 812.8,428.8 813.2,432.2 813.2,391.9 813.8,427.7 813.8,384.3 814.2,389.7 814.2,426.5 814.8,429.8 814.8,391.0 815.2,433.3 815.2,389.7 815.8,386.9 815.8,434.7 816.2,433.5 816.2,390.4 816.8,388.6 816.8,430.2 817.2,430.3 817.2,387.2 817.8,388.2 817.8,429.3 818.2,431.7 818.2,390.0 818.8,388.7 818.8,424.3 819.2,387.9 819.2,426.3 819.8,429.8 819.8,383.4 820.2,425.1 820.2,387.0 820.8,387.9 820.8,424.9 821.2,386.7 821.2,431.3 821.8,385.0 821.8,427.2 822.2,430.2 822.2,387.1 822.8,436.4 822.8,387.6 823.2,388.2 823.2,425.8 823.8,423.2 823.8,384.6 824.2,383.1 824.2,432.1 824.8,387.2 824.8,429.0 825.2,423.4 825.2,387.0 825.8,427.0 825.8,380.9 826.2,430.1 826.2,384.0 826.8,381.3 826.8,423.7 827.2,381.4 827.2,432.8 827.8,428.0 827.8,386.2 828.2,384.2 828.2,423.1 828.8,385.4 828.8,430.7 829.2,423.0 829.2,379.6 829.8,385.4 829.8,434.2 830.2,385.7 830.2,428.4 830.8,420.3 830.8,386.8 831.2,384.6 831.2,425.5 831.8,434.8 831.8,382.5 832.2,383.6 832.2,427.5 832.8,386.4 832.8,422.8 833.2,387.0 833.2,431.8 833.8,425.0 833.8,388.9 834.2,386.9 834.2,422.7 834.8,431.3 834.8,387.4 835.2,387.6 835.2,429.8 835.8,430.0 835.8,387.9 836.2,388.4 836.2,428.6 836.8,387.7 836.8,428.7 837.2,434.3 837.2,387.9 837.8,423.3 837.8,388.3 838.2,387.7 838.2,425.9 838.8,385.9 838.8,425.8 839.2,383.1 839.2,421.4 839.8,383.2 839.8,428.3 840.2,385.4 840.2,430.5 840.8,428.9 840.8,384.7 841.2,428.1 841.2,385.0 841.8,382.0 841.8,428.0 842.2,380.2 842.2,440.1 842.8,426.6 842.8,384.8 843.2,440.7 843.2,380.4 843.8,384.5 843.8,431.0 844.2,429.5 844.2,383.2 844.8,382.9 844.8,434.5 845.2,427.3 845.2,377.9 845.8,434.8 845.8,382.8 846.2,437.9 846.2,382.9 846.8,385.8 846.8,426.5 847.2,384.5 847.2,435.4 847.8,385.5 847.8,446.3 848.2,383.1 848.2,427.2 848.8,386.0 848.8,431.9 849.2,387.1 849.2,430.8 849.8,384.7 849.8,431.8 850.2,381.6 850.2,434.3 850.8,384.2 850.8,430.9 851.2,427.5 851.2,376.9 851.8,384.3 851.8,432.0 852.2,433.8 852.2,379.9 852.8,384.3 852.8,428.6 853.2,384.5 853.2,430.9 853.8,382.0 853.8,429.3 854.2,435.4 854.2,386.8 854.8,432.8 854.8,383.4 855.2,384.4 855.2,435.6 855.8,433.3 855.8,386.8 856.2,436.2 856.2,385.5 856.8,439.3 856.8,385.0 857.2,448.3 857.2,386.6 857.8,431.1 857.8,383.9 858.2,387.8 858.2,430.8 858.8,434.7 858.8,391.3 859.2,434.8 859.2,390.9 859.8,394.5 859.8,439.6 860.2,431.4 860.2,393.9 860.8,431.5 860.8,394.8 861.2,394.9 861.2,434.9 861.8,428.6 861.8,394.8 862.2,427.1 862.2,396.4 862.8,433.6 862.8,397.4 863.2,398.9 863.2,436.8 863.8,435.9 863.8,397.8 864.2,398.9 864.2,432.1 864.8,400.8 864.8,435.7 865.2,401.1 865.2,432.7 865.8,403.8 865.8,431.7 866.2,434.1 866.2,402.8 866.8,403.2 866.8,441.8 867.2,402.2 867.2,433.6 867.8,434.2 867.8,403.5 868.2,434.7 868.2,403.0 868.8,443.5 868.8,404.1 869.2,403.9 869.2,432.9 869.8,438.9 869.8,404.6 870.2,439.2 870.2,405.0 870.8,438.1 870.8,405.7 871.2,437.9 871.2,406.2 871.8,440.7 871.8,405.5 872.2,434.5 872.2,406.3 872.8,406.0 872.8,432.3 873.2,432.1 873.2,407.3 873.8,405.9 873.8,436.0 874.2,437.6 874.2,407.2 874.8,408.2 874.8,437.7 875.2,407.8 875.2,433.3 875.8,406.5 875.8,435.3 876.2,405.9 876.2,435.4 876.8,436.6 876.8,405.2 877.2,406.1 877.2,437.8 877.8,435.7 877.8,402.0 878.2,432.4 878.2,405.8 878.8,434.9 878.8,404.2 879.2,403.5 879.2,434.4 879.8,402.6 879.8,433.5 880.2,402.9 880.2,431.9 880.8,404.5 880.8,435.5 881.2,404.1 881.2,441.7 881.8,441.5 881.8,403.6 882.2,405.0 882.2,433.6 882.8,443.6 882.8,402.6 883.2,403.8 883.2,438.3 883.8,402.7 883.8,435.0 884.2,403.2 884.2,440.5 884.8,404.5 884.8,438.7 885.2,406.3 885.2,436.4 885.8,436.2 885.8,404.7 886.2,406.3 886.2,437.1 886.8,408.9 886.8,439.5 887.2,404.4 887.2,434.9 887.8,406.0 887.8,436.3 888.2,440.9 888.2,404.9 888.8,407.8 888.8,434.0 889.2,434.1 889.2,405.6 889.8,441.2 889.8,404.7 890.2,436.4 890.2,404.7 890.8,403.9 890.8,440.4 891.2,405.1 891.2,433.4 891.8,435.9 891.8,404.5 892.2,402.1 892.2,439.3 892.8,399.7 892.8,436.3 893.2,438.5 893.2,401.1 893.8,399.5 893.8,433.1 894.2,433.0 894.2,399.9 894.8,434.9 894.8,395.3 895.2,395.9 895.2,436.8 895.8,431.7 895.8,397.7 896.2,394.6 896.2,437.2 896.8,394.9 896.8,441.1 897.2,395.5 897.2,437.2 897.8,392.2 897.8,442.1 898.2,394.1 898.2,433.4 898.8,437.4 898.8,389.8 899.2,391.5 899.2,442.9 899.8,392.4 899.8,431.9 900.2,391.6 900.2,434.8 900.8,436.0 900.8,394.2 901.2,437.5 901.2,392.3 901.8,390.8 901.8,436.2 902.2,435.6 902.2,392.0 902.8,433.6 902.8,393.2 903.2,437.7 903.2,391.3 903.8,444.7 903.8,394.9 904.2,393.0 904.2,436.1 904.8,392.5 904.8,428.8 905.2,442.2 905.2,393.4 905.8,396.1 905.8,434.7 906.2,396.5 906.2,436.8 906.8,397.3 906.8,438.2 907.2,396.8 907.2,435.0 907.8,396.8 907.8,435.4 908.2,434.8 908.2,397.1 908.8,435.5 908.8,398.5 909.2,396.9 909.2,449.7 909.8,397.4 909.8,437.5 910.2,396.9 910.2,436.0 910.8,435.4 910.8,397.4 911.2,450.9 911.2,397.9 911.8,435.1 911.8,393.9 912.2,436.5 912.2,395.6 912.8,395.3 912.8,438.9 913.2,438.2 913.2,395.0 913.8,442.6 913.8,394.1 914.2,441.0 914.2,393.7 914.8,433.6 914.8,393.1 915.2,393.2 915.2,432.5 915.8,433.0 915.8,388.3 916.2,441.9 916.2,390.2 916.8,394.6 916.8,440.3 917.2,395.5 917.2,440.1 917.8,394.7 917.8,432.5 918.2,395.6 918.2,443.3 918.8,437.7 918.8,393.9 919.2,437.5 919.2,395.9 919.8,444.8 919.8,399.6 920.2,398.8 920.2,441.0 920.8,438.2 920.8,395.5 921.2,439.0 921.2,400.7 921.8,399.0 921.8,448.7 922.2,400.7 922.2,437.7 922.8,437.4 922.8,400.1 923.2,401.7 923.2,442.5 923.8,437.3 923.8,402.8 924.2,404.1 924.2,438.1 924.8,401.0 924.8,442.5 925.2,401.8 925.2,438.0 925.8,438.1 925.8,402.1 926.2,405.1 926.2,444.3 926.8,400.8 926.8,439.6 927.2,404.0 927.2,442.7 927.8,439.9 927.8,405.3 928.2,405.7 928.2,439.8 928.8,405.2 928.8,438.6 929.2,438.5 929.2,404.7 929.8,405.7 929.8,441.4 930.2,404.8 930.2,442.0 930.8,404.1 930.8,438.7 931.2,443.1 931.2,403.9 931.8,435.4 931.8,404.2 932.2,444.9 932.2,404.8 932.8,440.4 932.8,403.0 933.2,404.0 933.2,440.4 933.8,402.6 933.8,440.8 934.2,405.7 934.2,442.2 934.8,445.9 934.8,404.2 935.2,445.0 935.2,401.6 935.8,402.0 935.8,438.8 936.2,403.9 936.2,440.5 936.8,404.6 936.8,442.1 937.2,405.8 937.2,443.5 937.8,441.8 937.8,405.1 938.2,439.3 938.2,406.6 938.8,407.3 938.8,441.6 939.2,405.7 939.2,437.4 939.8,407.3 939.8,442.7 940.2,407.4 940.2,442.7 940.8,441.7 940.8,408.5 941.2,404.3 941.2,443.7 941.8,406.6 941.8,442.9 942.2,405.7 942.2,443.5 942.8,441.7 942.8,407.3 943.2,444.3 943.2,406.9 943.8,403.3 943.8,442.1 944.2,403.5 944.2,439.9 944.8,441.9 944.8,405.5 945.2,440.6 945.2,402.0 945.8,438.0 945.8,399.5 946.2,444.4 946.2,404.0 946.8,400.9 946.8,438.7 947.2,403.5 947.2,442.8 947.8,440.0 947.8,399.8 948.2,400.9 948.2,437.1 948.8,439.5 948.8,402.3 949.2,402.5 949.2,438.7 949.8,445.5 949.8,400.9 950.2,441.9 950.2,401.2 950.8,399.6 950.8,440.6 951.2,400.9 951.2,446.8 951.8,401.5 951.8,442.0 952.2,445.0 952.2,401.0 952.8,400.2 952.8,440.5 953.2,399.3 953.2,443.0 953.8,437.2 953.8,400.0 954.2,402.6 954.2,442.2 954.8,441.2 954.8,401.2 955.2,440.8 955.2,401.7 955.8,402.2 955.8,441.7 956.2,400.5 956.2,440.1 956.8,443.3 956.8,402.0 957.2,444.8 957.2,400.1 957.8,439.1 957.8,400.4 958.2,403.3 958.2,443.3 958.8,442.5 958.8,401.4 959.2,436.7 959.2,402.5 959.8,443.4 959.8,403.2 960.2,445.7 960.2,401.3 960.8,440.8 960.8,400.6 961.2,437.3 961.2,400.9 961.8,400.8 961.8,441.7 962.2,443.4 962.2,402.4 962.8,440.6 962.8,402.1 963.2,437.8 963.2,400.2 963.8,401.2 963.8,441.4 964.2,401.8 964.2,444.9 964.8,402.9 964.8,437.6 965.2,404.4 965.2,441.7 965.8,442.8 965.8,401.6 966.2,444.9 966.2,398.1 966.8,403.9 966.8,440.1 967.2,442.8 967.2,401.3 967.8,445.3 967.8,404.2 968.2,450.0 968.2,403.3 968.8,402.2 968.8,446.1 969.2,404.2 969.2,438.4 969.8,444.9 969.8,405.2 970.2,438.5 970.2,404.7 970.8,404.6 970.8,438.1 971.2,439.8 971.2,403.7 971.8,436.8 971.8,404.4 972.2,440.8 972.2,407.0 972.8,404.5 972.8,440.7 973.2,400.5 973.2,443.1 973.8,441.3 973.8,406.0 974.2,442.3 974.2,405.7 974.8,405.1 974.8,441.9 975.2,406.2 975.2,441.4 975.8,406.3 975.8,441.6 976.2,406.4 976.2,446.6 976.8,441.1 976.8,407.2 977.2,452.3 977.2,407.0 977.8,406.0 977.8,445.9 978.2,405.8 978.2,446.7 978.8,440.5 978.8,403.6 979.2,444.6 979.2,407.2 979.8,439.8 979.8,408.8 980.2,406.3 980.2,440.8 980.8,406.8 980.8,436.5 981.2,446.9 981.2,407.5 981.8,408.0 981.8,438.0 982.2,406.7 982.2,441.8 982.8,437.9 982.8,403.9 983.2,407.4 983.2,438.8" fill="none" stroke="#000" stroke-width="2.2" stroke-linejoin="round" stroke-linecap="round"/><g clip-path="url(#pc)"><line x1="217.88" x2="217.88" y1="191.4" y2="331.0" stroke="#000" stroke-width="2.9" stroke-linecap="round"/><line x1="339.71" x2="339.71" y1="302.8" y2="347.1" stroke="#000" stroke-width="2.9" stroke-linecap="round"/><line x1="396.23" x2="396.23" y1="285.1" y2="353.6" stroke="#000" stroke-width="2.9" stroke-linecap="round"/><line x1="433.54" x2="433.54" y1="303.8" y2="361.3" stroke="#000" stroke-width="2.9" stroke-linecap="round"/><line x1="461.35" x2="461.35" y1="311.8" y2="364.2" stroke="#000" stroke-width="2.9" stroke-linecap="round"/><line x1="483.56" x2="483.56" y1="318.1" y2="366.0" stroke="#000" stroke-width="2.9" stroke-linecap="round"/><line x1="502.09" x2="502.09" y1="316.4" y2="370.0" stroke="#000" stroke-width="2.9" stroke-linecap="round"/><line x1="517.92" x2="517.92" y1="320.9" y2="370.5" stroke="#000" stroke-width="2.9" stroke-linecap="round"/><line x1="531.80" x2="531.80" y1="329.1" y2="371.3" stroke="#000" stroke-width="2.9" stroke-linecap="round"/><line x1="544.11" x2="544.11" y1="329.8" y2="372.0" stroke="#000" stroke-width="2.9" stroke-linecap="round"/><line x1="549.79" x2="549.79" y1="42.0" y2="372.5" stroke="#000" stroke-width="3.0" stroke-linecap="round"/><line x1="555.21" x2="555.21" y1="333.4" y2="372.9" stroke="#000" stroke-width="2.9" stroke-linecap="round"/><line x1="565.28" x2="565.28" y1="326.8" y2="373.2" stroke="#000" stroke-width="2.9" stroke-linecap="round"/><line x1="574.52" x2="574.52" y1="326.6" y2="373.4" stroke="#000" stroke-width="2.9" stroke-linecap="round"/><line x1="583.04" x2="583.04" y1="348.8" y2="375.7" stroke="#000" stroke-width="2.9" stroke-linecap="round"/><line x1="590.95" x2="590.95" y1="342.4" y2="375.7" stroke="#000" stroke-width="2.9" stroke-linecap="round"/><line x1="598.34" x2="598.34" y1="351.4" y2="374.8" stroke="#000" stroke-width="2.9" stroke-linecap="round"/><line x1="605.26" x2="605.26" y1="347.8" y2="376.0" stroke="#000" stroke-width="2.9" stroke-linecap="round"/><line x1="611.79" x2="611.79" y1="352.3" y2="377.7" stroke="#000" stroke-width="2.9" stroke-linecap="round"/><line x1="617.94" x2="617.94" y1="352.3" y2="377.9" stroke="#000" stroke-width="2.9" stroke-linecap="round"/><line x1="623.78" x2="623.78" y1="343.6" y2="378.0" stroke="#000" stroke-width="2.9" stroke-linecap="round"/><line x1="626.58" x2="626.58" y1="326.1" y2="378.1" stroke="#000" stroke-width="2.9" stroke-linecap="round"/><line x1="629.31" x2="629.31" y1="350.9" y2="377.9" stroke="#000" stroke-width="2.9" stroke-linecap="round"/><line x1="634.59" x2="634.59" y1="345.1" y2="377.5" stroke="#000" stroke-width="2.9" stroke-linecap="round"/><line x1="639.62" x2="639.62" y1="362.7" y2="377.6" stroke="#000" stroke-width="2.4" stroke-linecap="round"/><line x1="644.44" x2="644.44" y1="360.1" y2="378.4" stroke="#000" stroke-width="2.4" stroke-linecap="round"/><line x1="649.06" x2="649.06" y1="365.2" y2="379.4" stroke="#000" stroke-width="2.4" stroke-linecap="round"/><line x1="653.48" x2="653.48" y1="364.7" y2="380.5" stroke="#000" stroke-width="2.4" stroke-linecap="round"/><line x1="657.75" x2="657.75" y1="361.7" y2="380.9" stroke="#000" stroke-width="2.4" stroke-linecap="round"/><line x1="661.85" x2="661.85" y1="359.6" y2="381.1" stroke="#000" stroke-width="2.4" stroke-linecap="round"/><line x1="665.81" x2="665.81" y1="356.6" y2="381.4" stroke="#000" stroke-width="2.4" stroke-linecap="round"/><line x1="669.63" x2="669.63" y1="354.7" y2="382.0" stroke="#000" stroke-width="2.4" stroke-linecap="round"/><line x1="672.79" x2="672.79" y1="347.7" y2="382.3" stroke="#000" stroke-width="2.4" stroke-linecap="round"/><line x1="673.32" x2="673.32" y1="356.2" y2="382.6" stroke="#000" stroke-width="2.4" stroke-linecap="round"/><line x1="676.89" x2="676.89" y1="353.5" y2="383.4" stroke="#000" stroke-width="2.4" stroke-linecap="round"/><line x1="680.36" x2="680.36" y1="355.5" y2="384.4" stroke="#000" stroke-width="2.4" stroke-linecap="round"/><line x1="683.71" x2="683.71" y1="366.8" y2="385.6" stroke="#000" stroke-width="2.4" stroke-linecap="round"/><line x1="686.97" x2="686.97" y1="371.9" y2="386.5" stroke="#000" stroke-width="2.4" stroke-linecap="round"/><line x1="690.14" x2="690.14" y1="369.3" y2="387.3" stroke="#000" stroke-width="2.4" stroke-linecap="round"/><line x1="693.21" x2="693.21" y1="369.9" y2="388.1" stroke="#000" stroke-width="2.4" stroke-linecap="round"/><line x1="696.21" x2="696.21" y1="374.5" y2="389.1" stroke="#000" stroke-width="2.4" stroke-linecap="round"/><line x1="699.12" x2="699.12" y1="361.5" y2="390.0" stroke="#000" stroke-width="2.4" stroke-linecap="round"/><line x1="701.96" x2="701.96" y1="364.2" y2="391.0" stroke="#000" stroke-width="2.4" stroke-linecap="round"/><line x1="704.73" x2="704.73" y1="361.7" y2="391.9" stroke="#000" stroke-width="2.4" stroke-linecap="round"/><line x1="707.44" x2="707.44" y1="361.5" y2="392.5" stroke="#000" stroke-width="2.4" stroke-linecap="round"/><line x1="710.07" x2="710.07" y1="365.6" y2="393.0" stroke="#000" stroke-width="2.4" stroke-linecap="round"/><line x1="712.64" x2="712.64" y1="365.2" y2="393.4" stroke="#000" stroke-width="2.4" stroke-linecap="round"/><line x1="715.16" x2="715.16" y1="369.9" y2="394.0" stroke="#000" stroke-width="2.4" stroke-linecap="round"/><line x1="717.62" x2="717.62" y1="370.9" y2="394.3" stroke="#000" stroke-width="2.4" stroke-linecap="round"/><line x1="720.03" x2="720.03" y1="374.0" y2="394.6" stroke="#000" stroke-width="2.4" stroke-linecap="round"/><line x1="722.39" x2="722.39" y1="368.0" y2="394.9" stroke="#000" stroke-width="2.4" stroke-linecap="round"/><line x1="724.70" x2="724.70" y1="370.9" y2="395.2" stroke="#000" stroke-width="2.4" stroke-linecap="round"/><line x1="726.96" x2="726.96" y1="367.6" y2="395.5" stroke="#000" stroke-width="2.4" stroke-linecap="round"/><line x1="729.18" x2="729.18" y1="368.8" y2="396.0" stroke="#000" stroke-width="2.4" stroke-linecap="round"/><line x1="731.35" x2="731.35" y1="368.3" y2="396.7" stroke="#000" stroke-width="2.4" stroke-linecap="round"/><line x1="733.48" x2="733.48" y1="371.9" y2="397.4" stroke="#000" stroke-width="2.4" stroke-linecap="round"/><line x1="735.57" x2="735.57" y1="374.0" y2="398.1" stroke="#000" stroke-width="2.4" stroke-linecap="round"/><line x1="737.62" x2="737.62" y1="371.9" y2="398.6" stroke="#000" stroke-width="2.4" stroke-linecap="round"/><line x1="963.99" x2="963.99" y1="399.7" y2="422.2" stroke="#000" stroke-width="2.6" stroke-linecap="round"/><line x1="968.71" x2="968.71" y1="398.2" y2="423.6" stroke="#000" stroke-width="2.6" stroke-linecap="round"/><line x1="972.99" x2="972.99" y1="395.1" y2="424.5" stroke="#000" stroke-width="2.6" stroke-linecap="round"/><line x1="976.39" x2="976.39" y1="395.9" y2="425.0" stroke="#000" stroke-width="2.6" stroke-linecap="round"/><line x1="980.30" x2="980.30" y1="394.0" y2="425.2" stroke="#000" stroke-width="2.6" stroke-linecap="round"/></g>
<rect x="40.0" y="18.0" width="506.43" height="519.6" fill="#fff" fill-opacity="0.75"/><rect x="882.43" y="18.0" width="100.77" height="519.6" fill="#fff" fill-opacity="0.75"/>
<line x1="546.4" x2="546.4" y1="18.0" y2="537.6" stroke="#e6e6e6" stroke-width="1" stroke-dasharray="1 2"/>
<rect x="40.2" y="18.0" width="943.4" height="519.5" fill="none" stroke="#a4a4a4" stroke-width="1.2"/>
<rect x="545.7" y="20.2" width="9.2" height="13" fill="#fff" fill-opacity="0.82"/><text x="550.3" y="31" font-size="12" text-anchor="middle" fill="#1a1a1a">1</text><rect x="622.4" y="305.2" width="9.2" height="13" fill="#fff" fill-opacity="0.82"/><text x="627.0" y="316" font-size="12" text-anchor="middle" fill="#1a1a1a">2</text><rect x="668.4" y="348.8" width="9.2" height="13" fill="#fff" fill-opacity="0.82"/><text x="673.0" y="360" font-size="12" text-anchor="middle" fill="#1a1a1a">3</text><rect x="699.2" y="367.6" width="9.2" height="13" fill="#fff" fill-opacity="0.82"/><text x="703.8" y="378" font-size="12" text-anchor="middle" fill="#1a1a1a">4</text><rect x="723.9" y="369.4" width="9.2" height="13" fill="#fff" fill-opacity="0.82"/><text x="728.5" y="380" font-size="12" text-anchor="middle" fill="#1a1a1a">5</text><rect x="744.1" y="373.9" width="9.2" height="13" fill="#fff" fill-opacity="0.82"/><text x="748.7" y="385" font-size="12" text-anchor="middle" fill="#1a1a1a">6</text><rect x="761.1" y="378.8" width="9.2" height="13" fill="#fff" fill-opacity="0.82"/><text x="765.7" y="390" font-size="12" text-anchor="middle" fill="#1a1a1a">7</text><rect x="775.9" y="379.7" width="9.2" height="13" fill="#fff" fill-opacity="0.82"/><text x="780.5" y="390" font-size="12" text-anchor="middle" fill="#1a1a1a">8</text><rect x="789.0" y="386.7" width="9.2" height="13" fill="#fff" fill-opacity="0.82"/><text x="793.6" y="398" font-size="12" text-anchor="middle" fill="#1a1a1a">9</text>
<text x="17.2" y="12" font-size="12" fill="#1c1c1c" stroke="#1c1c1c" stroke-width="0.2" textLength="21.0" lengthAdjust="spacingAndGlyphs">dBV</text><text x="39.2" y="49" font-size="12" fill="#1c1c1c" text-anchor="end" stroke="#1c1c1c" stroke-width="0.2">0</text><text x="39.2" y="75" font-size="12" fill="#909090" text-anchor="end" stroke="#909090" stroke-width="0.2">-10</text><text x="39.2" y="101" font-size="12" fill="#1c1c1c" text-anchor="end" stroke="#1c1c1c" stroke-width="0.2">-20</text><text x="39.2" y="127" font-size="12" fill="#909090" text-anchor="end" stroke="#909090" stroke-width="0.2">-30</text><text x="39.2" y="153" font-size="12" fill="#1c1c1c" text-anchor="end" stroke="#1c1c1c" stroke-width="0.2">-40</text><text x="39.2" y="179" font-size="12" fill="#909090" text-anchor="end" stroke="#909090" stroke-width="0.2">-50</text><text x="39.2" y="205" font-size="12" fill="#1c1c1c" text-anchor="end" stroke="#1c1c1c" stroke-width="0.2">-60</text><text x="39.2" y="231" font-size="12" fill="#909090" text-anchor="end" stroke="#909090" stroke-width="0.2">-70</text><text x="39.2" y="257" font-size="12" fill="#1c1c1c" text-anchor="end" stroke="#1c1c1c" stroke-width="0.2">-80</text><text x="39.2" y="283" font-size="12" fill="#909090" text-anchor="end" stroke="#909090" stroke-width="0.2">-90</text><text x="39.2" y="309" font-size="12" fill="#1c1c1c" text-anchor="end" stroke="#1c1c1c" stroke-width="0.2">-100</text><text x="39.2" y="335" font-size="12" fill="#909090" text-anchor="end" stroke="#909090" stroke-width="0.2">-110</text><text x="39.2" y="361" font-size="12" fill="#1c1c1c" text-anchor="end" stroke="#1c1c1c" stroke-width="0.2">-120</text><text x="39.2" y="387" font-size="12" fill="#909090" text-anchor="end" stroke="#909090" stroke-width="0.2">-130</text><text x="39.2" y="413" font-size="12" fill="#1c1c1c" text-anchor="end" stroke="#1c1c1c" stroke-width="0.2">-140</text><text x="39.2" y="439" font-size="12" fill="#909090" text-anchor="end" stroke="#909090" stroke-width="0.2">-150</text><text x="39.2" y="465" font-size="12" fill="#1c1c1c" text-anchor="end" stroke="#1c1c1c" stroke-width="0.2">-160</text><text x="39.2" y="491" font-size="12" fill="#909090" text-anchor="end" stroke="#909090" stroke-width="0.2">-170</text><text x="39.2" y="516" font-size="12" fill="#1c1c1c" text-anchor="end" stroke="#1c1c1c" stroke-width="0.2">-180</text><text x="41.7" y="555" font-size="12" fill="#1c1c1c" text-anchor="middle" stroke="#1c1c1c" stroke-width="0.2">10</text><text x="118.0" y="555" font-size="12" fill="#1c1c1c" text-anchor="middle" stroke="#1c1c1c" stroke-width="0.2">20</text><text x="162.9" y="555" font-size="12" fill="#1c1c1c" text-anchor="middle" stroke="#1c1c1c" stroke-width="0.2">30</text><text x="194.8" y="555" font-size="12" fill="#1c1c1c" text-anchor="middle" stroke="#1c1c1c" stroke-width="0.2">40</text><text x="219.5" y="555" font-size="12" fill="#1c1c1c" text-anchor="middle" stroke="#1c1c1c" stroke-width="0.2">50</text><text x="239.7" y="555" font-size="12" fill="#1c1c1c" text-anchor="middle" stroke="#1c1c1c" stroke-width="0.2">60</text><text x="271.5" y="555" font-size="12" fill="#1c1c1c" text-anchor="middle" stroke="#1c1c1c" stroke-width="0.2">80</text><text x="296.2" y="555" font-size="12" fill="#1c1c1c" text-anchor="middle" stroke="#1c1c1c" stroke-width="0.2">100</text><text x="373.0" y="555" font-size="12" fill="#1c1c1c" text-anchor="middle" stroke="#1c1c1c" stroke-width="0.2">200</text><text x="417.9" y="555" font-size="12" fill="#1c1c1c" text-anchor="middle" stroke="#1c1c1c" stroke-width="0.2">300</text><text x="449.8" y="555" font-size="12" fill="#1c1c1c" text-anchor="middle" stroke="#1c1c1c" stroke-width="0.2">400</text><text x="494.7" y="555" font-size="12" fill="#1c1c1c" text-anchor="middle" stroke="#1c1c1c" stroke-width="0.2">600</text><text x="526.6" y="555" font-size="12" fill="#1c1c1c" text-anchor="middle" stroke="#1c1c1c" stroke-width="0.2">800</text><text x="550.8" y="555" font-size="12" fill="#1c1c1c" text-anchor="middle" stroke="#1c1c1c" stroke-width="0.2" textLength="11.3" lengthAdjust="spacingAndGlyphs">1k</text><text x="627.6" y="555" font-size="12" fill="#1c1c1c" text-anchor="middle" stroke="#1c1c1c" stroke-width="0.2" textLength="11.3" lengthAdjust="spacingAndGlyphs">2k</text><text x="672.5" y="555" font-size="12" fill="#1c1c1c" text-anchor="middle" stroke="#1c1c1c" stroke-width="0.2" textLength="11.3" lengthAdjust="spacingAndGlyphs">3k</text><text x="704.4" y="555" font-size="12" fill="#1c1c1c" text-anchor="middle" stroke="#1c1c1c" stroke-width="0.2" textLength="11.3" lengthAdjust="spacingAndGlyphs">4k</text><text x="729.1" y="555" font-size="12" fill="#1c1c1c" text-anchor="middle" stroke="#1c1c1c" stroke-width="0.2" textLength="11.3" lengthAdjust="spacingAndGlyphs">5k</text><text x="749.3" y="555" font-size="12" fill="#1c1c1c" text-anchor="middle" stroke="#1c1c1c" stroke-width="0.2" textLength="11.3" lengthAdjust="spacingAndGlyphs">6k</text><text x="781.1" y="555" font-size="12" fill="#1c1c1c" text-anchor="middle" stroke="#1c1c1c" stroke-width="0.2" textLength="11.3" lengthAdjust="spacingAndGlyphs">8k</text><text x="805.9" y="555" font-size="12" fill="#1c1c1c" text-anchor="middle" stroke="#1c1c1c" stroke-width="0.2" textLength="17.9" lengthAdjust="spacingAndGlyphs">10k</text><text x="882.6" y="555" font-size="12" fill="#1c1c1c" text-anchor="middle" stroke="#1c1c1c" stroke-width="0.2" textLength="17.9" lengthAdjust="spacingAndGlyphs">20k</text><text x="927.5" y="555" font-size="12" fill="#1c1c1c" text-anchor="middle" stroke="#1c1c1c" stroke-width="0.2" textLength="17.9" lengthAdjust="spacingAndGlyphs">30k</text><text x="965.8" y="555" font-size="12" fill="#1c1c1c" stroke="#1c1c1c" stroke-width="0.2" textLength="33.2" lengthAdjust="spacingAndGlyphs">50kHz</text><text x="386.6" y="579" font-size="12" fill="#1c1c1c" stroke="#1c1c1c" stroke-width="0.2" textLength="51.4" lengthAdjust="spacingAndGlyphs">Spectrum</text>
<line x1="530" x2="581" y1="575.5" y2="575.5" stroke="#000" stroke-width="2"/>
<rect x="44.25" y="21.25" width="291.8" height="207.7" rx="9" ry="9" fill="#fff" fill-opacity="0.88" stroke="#d3d3d3" stroke-width="2.6"/><text x="93.6" y="41" font-size="12" fill="#1c1c1c" font-weight="bold" textLength="50.0" lengthAdjust="spacingAndGlyphs">1,000.04</text><text x="146.0" y="41" font-size="12" fill="#1c1c1c" font-weight="bold" stroke="#1c1c1c" stroke-width="0.3">Hz</text><text x="167.6" y="41" font-size="12" fill="#1c1c1c" font-weight="bold" textLength="28.6" lengthAdjust="spacingAndGlyphs">-6.76</text><text x="199.6" y="41" font-size="12" fill="#1c1c1c" font-weight="bold" stroke="#1c1c1c" stroke-width="0.3" textLength="28.8" lengthAdjust="spacing">dBFS</text><text x="234.4" y="41" font-size="12" fill="#1c1c1c" font-weight="bold" textLength="23.2" lengthAdjust="spacingAndGlyphs">1.35</text><text x="262.4" y="41" font-size="12" fill="#1c1c1c" font-weight="bold" stroke="#1c1c1c" stroke-width="0.3" textLength="22.8" lengthAdjust="spacing">dBV</text><text x="87.0" y="61" font-size="12" fill="#1c1c1c" stroke="#1c1c1c" stroke-width="0.22" textLength="29.2" lengthAdjust="spacingAndGlyphs">Span:</text><text x="119.4" y="61" font-size="12" fill="#1c1c1c" font-weight="bold" textLength="91.0" lengthAdjust="spacingAndGlyphs">970 .. 20,000 Hz</text><text x="220.2" y="61" font-size="12" fill="#1c1c1c" font-weight="bold" textLength="71.2" lengthAdjust="spacingAndGlyphs">Gain 7.37 dB</text><text x="143.2" y="81" font-size="12" fill="#1c1c1c" stroke="#1c1c1c" stroke-width="0.22" textLength="42.4" lengthAdjust="spacingAndGlyphs">Clock Δ:</text><text x="188.8" y="81" font-size="12" fill="#1c1c1c" font-weight="bold" textLength="46.6" lengthAdjust="spacingAndGlyphs">7.6 ppm</text><text x="83.0" y="101" font-size="12" fill="#1c1c1c" text-anchor="end" stroke="#1c1c1c" stroke-width="0.22" textLength="28.2" lengthAdjust="spacingAndGlyphs">N+D:</text><text x="86.4" y="101" font-size="12" fill="#1c1c1c" font-weight="bold" textLength="67.6" lengthAdjust="spacingAndGlyphs">-84.0 dBV A</text><text x="238.6" y="101" font-size="12" fill="#1c1c1c" font-weight="bold" textLength="59.8" lengthAdjust="spacingAndGlyphs">0.00034 %</text><text x="83.0" y="121" font-size="12" fill="#1c1c1c" text-anchor="end" stroke="#1c1c1c" stroke-width="0.22" textLength="11.8" lengthAdjust="spacingAndGlyphs">N:</text><text x="86.4" y="121" font-size="12" fill="#1c1c1c" font-weight="bold" textLength="55.0" lengthAdjust="spacingAndGlyphs">-84.5 dBV</text><text x="234.8" y="121" font-size="12" fill="#1c1c1c" text-anchor="end" stroke="#1c1c1c" stroke-width="0.22" textLength="43.4" lengthAdjust="spacingAndGlyphs">THD+N:</text><text x="238.6" y="121" font-size="12" fill="#1c1c1c" font-weight="bold" textLength="52.2" lengthAdjust="spacingAndGlyphs">0.0051 %</text><text x="83.0" y="141" font-size="12" fill="#1c1c1c" text-anchor="end" stroke="#1c1c1c" stroke-width="0.22" textLength="25.4" lengthAdjust="spacingAndGlyphs">SNR:</text><text x="86.4" y="141" font-size="12" fill="#1c1c1c" font-weight="bold" textLength="46.0" lengthAdjust="spacingAndGlyphs"> 85.9 dB</text><text x="234.8" y="141" font-size="12" fill="#1c1c1c" text-anchor="end" stroke="#1c1c1c" stroke-width="0.22" textLength="34.2" lengthAdjust="spacingAndGlyphs">ENOB:</text><text x="238.6" y="141" font-size="12" fill="#1c1c1c" font-weight="bold" textLength="47.6" lengthAdjust="spacingAndGlyphs">15.1 bits</text><text x="83.0" y="161" font-size="12" fill="#1c1c1c" text-anchor="end" stroke="#1c1c1c" stroke-width="0.22" textLength="22.6" lengthAdjust="spacingAndGlyphs">2nd:</text><text x="86.4" y="161" font-size="12" fill="#1c1c1c" font-weight="bold" textLength="59.8" lengthAdjust="spacingAndGlyphs">0.00034 %</text><text x="234.8" y="161" font-size="12" fill="#1c1c1c" text-anchor="end" stroke="#1c1c1c" stroke-width="0.22" textLength="20.2" lengthAdjust="spacingAndGlyphs">3rd:</text><text x="238.6" y="161" font-size="12" fill="#1c1c1c" font-weight="bold" textLength="66.6" lengthAdjust="spacingAndGlyphs">0.000048 %</text><text x="83.0" y="180" font-size="12" fill="#1c1c1c" text-anchor="end" stroke="#1c1c1c" stroke-width="0.22" textLength="20.0" lengthAdjust="spacingAndGlyphs">4th:</text><text x="86.4" y="180" font-size="12" fill="#1c1c1c" font-weight="bold" textLength="66.6" lengthAdjust="spacingAndGlyphs">0.000019 %</text><text x="234.8" y="180" font-size="12" fill="#1c1c1c" text-anchor="end" stroke="#1c1c1c" stroke-width="0.22" textLength="19.6" lengthAdjust="spacingAndGlyphs">5th:</text><text x="238.6" y="180" font-size="12" fill="#1c1c1c" font-weight="bold" textLength="66.6" lengthAdjust="spacingAndGlyphs">0.000018 %</text><text x="83.0" y="200" font-size="12" fill="#1c1c1c" text-anchor="end" stroke="#1c1c1c" stroke-width="0.22" textLength="20.0" lengthAdjust="spacingAndGlyphs">6th:</text><text x="86.4" y="200" font-size="12" fill="#1c1c1c" font-weight="bold" textLength="66.6" lengthAdjust="spacingAndGlyphs">0.000016 %</text><text x="234.8" y="200" font-size="12" fill="#1c1c1c" text-anchor="end" stroke="#1c1c1c" stroke-width="0.22" textLength="19.6" lengthAdjust="spacingAndGlyphs">7th:</text><text x="238.6" y="200" font-size="12" fill="#1c1c1c" font-weight="bold" textLength="66.6" lengthAdjust="spacingAndGlyphs">0.000012 %</text><text x="83.0" y="220" font-size="12" fill="#1c1c1c" text-anchor="end" stroke="#1c1c1c" stroke-width="0.22" textLength="20.0" lengthAdjust="spacingAndGlyphs">8th:</text><text x="86.4" y="220" font-size="12" fill="#1c1c1c" font-weight="bold" textLength="66.6" lengthAdjust="spacingAndGlyphs">0.000012 %</text><text x="234.8" y="220" font-size="12" fill="#1c1c1c" text-anchor="end" stroke="#1c1c1c" stroke-width="0.22" textLength="19.6" lengthAdjust="spacingAndGlyphs">9th:</text><text x="238.6" y="220" font-size="12" fill="#1c1c1c" font-weight="bold" textLength="66.6" lengthAdjust="spacingAndGlyphs">0.000009 %</text><text x="187.2" y="101" font-size="12" fill="#1c1c1c" stroke="#1c1c1c" stroke-width="0.22" textLength="24.6" lengthAdjust="spacingAndGlyphs">THD</text><text x="212.0" y="101" font-size="7.5" fill="#1c1c1c" font-weight="bold" textLength="19.4" lengthAdjust="spacingAndGlyphs">H2..9</text><text x="231.6" y="101" font-size="12" fill="#1c1c1c" stroke="#1c1c1c" stroke-width="0.22" textLength="3.2" lengthAdjust="spacingAndGlyphs">:</text><rect x="860.25" y="21.45" width="118.5" height="83.3" rx="9.5" ry="9.5" fill="#fff" fill-opacity="0.62" stroke="#d3d3d3" stroke-width="2.6"/><text x="919.4" y="45" font-size="17" fill="#1c1c1c" text-anchor="middle" stroke="#1c1c1c" stroke-width="0.22" textLength="70.2" lengthAdjust="spacingAndGlyphs">1.35 dBV</text><text x="919.4" y="61" font-size="9.2" fill="#1c1c1c" text-anchor="middle" stroke="#1c1c1c" stroke-width="0.15" textLength="84.2" lengthAdjust="spacingAndGlyphs">1.3 dBV C, 1.3 dBV A</text><text x="919.4" y="74" font-size="9.2" fill="#1c1c1c" text-anchor="middle" stroke="#1c1c1c" stroke-width="0.15" textLength="98.6" lengthAdjust="spacingAndGlyphs">Peak sample: -3.74 dBFS</text><text x="919.4" y="86" font-size="9.2" fill="#1c1c1c" text-anchor="middle" stroke="#1c1c1c" stroke-width="0.15" textLength="90.0" lengthAdjust="spacingAndGlyphs">1.3 dBV 22 - 22k UNW</text><text x="919.4" y="99" font-size="9.2" fill="#1c1c1c" text-anchor="middle" stroke="#1c1c1c" stroke-width="0.15" textLength="63.4" lengthAdjust="spacingAndGlyphs">-78.1 dBV &gt; 22k</text><rect x="43.25" y="501.05" width="185.7" height="32.900000000000034" rx="10" ry="10" fill="#fff" fill-opacity="0.8" stroke="#d3d3d3" stroke-width="2.6"/><text x="52.4" y="525" font-size="17" fill="#1c1c1c" stroke="#1c1c1c" stroke-width="0.22" textLength="167.4" lengthAdjust="spacingAndGlyphs">32 cross correlations</text>
</svg>
</body></html>
